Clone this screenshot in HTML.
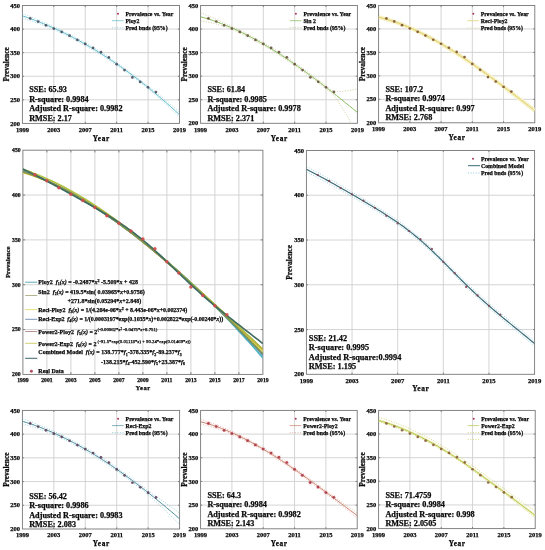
<!DOCTYPE html>
<html><head><meta charset="utf-8"><style>
html,body{margin:0;padding:0;background:#fff;}
body{width:545px;height:550px;overflow:hidden;}
svg{display:block;font-family:"Liberation Serif", serif;filter:blur(0.5px);}
text{stroke:#0a0a0a;stroke-width:0.25px;}
</style></head><body>
<svg width="545" height="550" viewBox="0 0 545 550">
<rect width="545" height="550" fill="#fff"/>
<path d="M53.82,5.50 V123.40 M85.24,5.50 V123.40 M116.66,5.50 V123.40 M148.08,5.50 V123.40 M22.40,99.82 H179.50 M22.40,76.24 H179.50 M22.40,52.66 H179.50 M22.40,29.08 H179.50" stroke="#cfcfcf" stroke-width="0.90" fill="none"/>
<path d="M53.82,5.50 v1.60 M53.82,123.40 v-1.60 M85.24,5.50 v1.60 M85.24,123.40 v-1.60 M116.66,5.50 v1.60 M116.66,123.40 v-1.60 M148.08,5.50 v1.60 M148.08,123.40 v-1.60 M22.40,99.82 h1.60 M179.50,99.82 h-1.60 M22.40,76.24 h1.60 M179.50,76.24 h-1.60 M22.40,52.66 h1.60 M179.50,52.66 h-1.60 M22.40,29.08 h1.60 M179.50,29.08 h-1.60" stroke="#777777" stroke-width="0.90" fill="none"/>
<rect x="22.40" y="5.50" width="157.10" height="117.90" fill="none" stroke="#777777" stroke-width="0.90"/>
<text x="20.10" y="125.55" font-size="6.50" font-weight="bold" font-style="normal" text-anchor="end" fill="#0a0a0a" >200</text>
<text x="20.10" y="101.97" font-size="6.50" font-weight="bold" font-style="normal" text-anchor="end" fill="#0a0a0a" >250</text>
<text x="20.10" y="78.39" font-size="6.50" font-weight="bold" font-style="normal" text-anchor="end" fill="#0a0a0a" >300</text>
<text x="20.10" y="54.81" font-size="6.50" font-weight="bold" font-style="normal" text-anchor="end" fill="#0a0a0a" >350</text>
<text x="20.10" y="31.23" font-size="6.50" font-weight="bold" font-style="normal" text-anchor="end" fill="#0a0a0a" >400</text>
<text x="20.10" y="7.64" font-size="6.50" font-weight="bold" font-style="normal" text-anchor="end" fill="#0a0a0a" >450</text>
<text x="22.40" y="131.85" font-size="6.50" font-weight="bold" font-style="normal" text-anchor="middle" fill="#0a0a0a" >1999</text>
<text x="53.82" y="131.85" font-size="6.50" font-weight="bold" font-style="normal" text-anchor="middle" fill="#0a0a0a" >2003</text>
<text x="85.24" y="131.85" font-size="6.50" font-weight="bold" font-style="normal" text-anchor="middle" fill="#0a0a0a" >2007</text>
<text x="116.66" y="131.85" font-size="6.50" font-weight="bold" font-style="normal" text-anchor="middle" fill="#0a0a0a" >2011</text>
<text x="148.08" y="131.85" font-size="6.50" font-weight="bold" font-style="normal" text-anchor="middle" fill="#0a0a0a" >2015</text>
<text x="179.50" y="131.85" font-size="6.50" font-weight="bold" font-style="normal" text-anchor="middle" fill="#0a0a0a" >2019</text>
<text x="101.25" y="140.61" font-size="7.30" font-weight="bold" font-style="normal" text-anchor="middle" fill="#0a0a0a" letter-spacing="0.60">Year</text>
<text x="0" y="0" font-size="7.40" font-weight="bold" text-anchor="middle" fill="#0a0a0a" transform="translate(8.72,64.45) rotate(-90)">Prevalence</text>
<clipPath id="c1"><rect x="22.40" y="5.50" width="157.10" height="117.90"/></clipPath>
<g clip-path="url(#c1)">
<path d="M22.40,13.52 L23.19,13.81 L23.97,14.11 L24.76,14.41 L25.54,14.71 L26.33,15.02 L27.11,15.32 L27.90,15.63 L28.68,15.94 L29.47,16.25 L30.25,16.56 L31.04,16.88 L31.83,17.19 L32.61,17.51 L33.40,17.83 L34.18,18.16 L34.97,18.48 L35.75,18.80 L36.54,19.13 L37.32,19.46 L38.11,19.79 L38.90,20.12 L39.68,20.46 L40.47,20.80 L41.25,21.13 L42.04,21.47 L42.82,21.81 L43.61,22.16 L44.39,22.50 L45.18,22.85 L45.96,23.19 L46.75,23.54 L47.54,23.89 L48.32,24.24 L49.11,24.59 L49.89,24.95 L50.68,25.30 L51.46,25.66 L52.25,26.02 L53.03,26.37 L53.82,26.73 L54.61,27.08 L55.39,27.44 L56.18,27.80 L56.96,28.16 L57.75,28.53 L58.53,28.89 L59.32,29.26 L60.10,29.63 L60.89,30.01 L61.67,30.38 L62.46,30.76 L63.25,31.14 L64.03,31.52 L64.82,31.91 L65.60,32.30 L66.39,32.69 L67.17,33.08 L67.96,33.47 L68.74,33.87 L69.53,34.27 L70.32,34.67 L71.10,35.08 L71.89,35.48 L72.67,35.89 L73.46,36.30 L74.24,36.72 L75.03,37.13 L75.81,37.55 L76.60,37.97 L77.38,38.39 L78.17,38.82 L78.96,39.25 L79.74,39.68 L80.53,40.11 L81.31,40.54 L82.10,40.98 L82.88,41.42 L83.67,41.86 L84.45,42.30 L85.24,42.75 L86.03,43.20 L86.81,43.65 L87.60,44.10 L88.38,44.56 L89.17,45.02 L89.95,45.48 L90.74,45.94 L91.52,46.41 L92.31,46.87 L93.09,47.34 L93.88,47.82 L94.67,48.29 L95.45,48.77 L96.24,49.25 L97.02,49.73 L97.81,50.21 L98.59,50.70 L99.38,51.19 L100.16,51.68 L100.95,52.17 L101.74,52.67 L102.52,53.16 L103.31,53.66 L104.09,54.17 L104.88,54.67 L105.66,55.18 L106.45,55.69 L107.23,56.20 L108.02,56.71 L108.81,57.23 L109.59,57.75 L110.38,58.27 L111.16,58.79 L111.95,59.32 L112.73,59.85 L113.52,60.38 L114.30,60.91 L115.09,61.45 L115.87,61.99 L116.66,62.53 L117.45,63.07 L118.23,63.61 L119.02,64.16 L119.80,64.71 L120.59,65.26 L121.37,65.82 L122.16,66.37 L122.94,66.93 L123.73,67.49 L124.51,68.06 L125.30,68.62 L126.09,69.19 L126.87,69.76 L127.66,70.33 L128.44,70.91 L129.23,71.49 L130.01,72.07 L130.80,72.65 L131.58,73.23 L132.37,73.82 L133.16,74.41 L133.94,75.00 L134.73,75.60 L135.51,76.19 L136.30,76.79 L137.08,77.39 L137.87,78.00 L138.65,78.60 L139.44,79.21 L140.22,79.82 L141.01,80.43 L141.80,81.05 L142.58,81.67 L143.37,82.29 L144.15,82.91 L144.94,83.53 L145.72,84.16 L146.51,84.79 L147.29,85.42 L148.08,86.05 L148.87,86.69 L149.65,87.32 L150.44,87.95 L151.22,88.58 L152.01,89.21 L152.79,89.84 L153.58,90.48 L154.36,91.11 L155.15,91.74 L155.94,92.38 L156.72,93.02 L157.51,93.66 L158.29,94.30 L159.08,94.94 L159.86,95.59 L160.65,96.23 L161.43,96.88 L162.22,97.53 L163.00,98.17 L163.79,98.83 L164.58,99.48 L165.36,100.13 L166.15,100.79 L166.93,101.45 L167.72,102.11 L168.50,102.77 L169.29,103.43 L170.07,104.09 L170.86,104.76 L171.65,105.43 L172.43,106.10 L173.22,106.77 L174.00,107.44 L174.79,108.12 L175.57,108.79 L176.36,109.47 L177.14,110.15 L177.93,110.83 L178.71,111.52 L179.50,112.20" stroke="#8ccfdc" stroke-width="0.80" stroke-dasharray="1 1.6" fill="none"/>
<path d="M22.40,18.23 L23.19,18.46 L23.97,18.69 L24.76,18.92 L25.54,19.15 L26.33,19.39 L27.11,19.63 L27.90,19.87 L28.68,20.12 L29.47,20.37 L30.25,20.62 L31.04,20.87 L31.83,21.13 L32.61,21.39 L33.40,21.65 L34.18,21.92 L34.97,22.19 L35.75,22.46 L36.54,22.73 L37.32,23.01 L38.11,23.29 L38.90,23.57 L39.68,23.86 L40.47,24.15 L41.25,24.44 L42.04,24.73 L42.82,25.03 L43.61,25.33 L44.39,25.64 L45.18,25.95 L45.96,26.26 L46.75,26.57 L47.54,26.89 L48.32,27.21 L49.11,27.53 L49.89,27.86 L50.68,28.19 L51.46,28.53 L52.25,28.87 L53.03,29.21 L53.82,29.56 L54.61,29.91 L55.39,30.27 L56.18,30.63 L56.96,30.99 L57.75,31.36 L58.53,31.72 L59.32,32.09 L60.10,32.46 L60.89,32.84 L61.67,33.21 L62.46,33.59 L63.25,33.97 L64.03,34.35 L64.82,34.74 L65.60,35.13 L66.39,35.52 L67.17,35.91 L67.96,36.30 L68.74,36.70 L69.53,37.10 L70.32,37.50 L71.10,37.91 L71.89,38.31 L72.67,38.72 L73.46,39.13 L74.24,39.55 L75.03,39.96 L75.81,40.38 L76.60,40.80 L77.38,41.22 L78.17,41.65 L78.96,42.08 L79.74,42.51 L80.53,42.94 L81.31,43.37 L82.10,43.81 L82.88,44.25 L83.67,44.69 L84.45,45.13 L85.24,45.58 L86.03,46.03 L86.81,46.48 L87.60,46.93 L88.38,47.39 L89.17,47.85 L89.95,48.31 L90.74,48.77 L91.52,49.24 L92.31,49.70 L93.09,50.17 L93.88,50.64 L94.67,51.12 L95.45,51.60 L96.24,52.08 L97.02,52.56 L97.81,53.04 L98.59,53.53 L99.38,54.02 L100.16,54.51 L100.95,55.00 L101.74,55.49 L102.52,55.99 L103.31,56.49 L104.09,57.00 L104.88,57.50 L105.66,58.01 L106.45,58.52 L107.23,59.03 L108.02,59.54 L108.81,60.06 L109.59,60.58 L110.38,61.10 L111.16,61.62 L111.95,62.15 L112.73,62.68 L113.52,63.21 L114.30,63.74 L115.09,64.28 L115.87,64.82 L116.66,65.36 L117.45,65.90 L118.23,66.44 L119.02,66.99 L119.80,67.54 L120.59,68.09 L121.37,68.65 L122.16,69.20 L122.94,69.76 L123.73,70.32 L124.51,70.89 L125.30,71.45 L126.09,72.02 L126.87,72.59 L127.66,73.16 L128.44,73.74 L129.23,74.32 L130.01,74.90 L130.80,75.48 L131.58,76.06 L132.37,76.65 L133.16,77.24 L133.94,77.83 L134.73,78.43 L135.51,79.02 L136.30,79.62 L137.08,80.22 L137.87,80.83 L138.65,81.43 L139.44,82.04 L140.22,82.65 L141.01,83.26 L141.80,83.88 L142.58,84.50 L143.37,85.12 L144.15,85.74 L144.94,86.36 L145.72,86.99 L146.51,87.62 L147.29,88.25 L148.08,88.88 L148.87,89.52 L149.65,90.17 L150.44,90.82 L151.22,91.48 L152.01,92.14 L152.79,92.80 L153.58,93.47 L154.36,94.14 L155.15,94.82 L155.94,95.49 L156.72,96.18 L157.51,96.86 L158.29,97.55 L159.08,98.24 L159.86,98.93 L160.65,99.63 L161.43,100.33 L162.22,101.04 L163.00,101.75 L163.79,102.46 L164.58,103.17 L165.36,103.89 L166.15,104.61 L166.93,105.33 L167.72,106.05 L168.50,106.78 L169.29,107.52 L170.07,108.25 L170.86,108.99 L171.65,109.73 L172.43,110.47 L173.22,111.22 L174.00,111.97 L174.79,112.72 L175.57,113.48 L176.36,114.23 L177.14,115.00 L177.93,115.76 L178.71,116.53 L179.50,117.30" stroke="#8ccfdc" stroke-width="0.80" stroke-dasharray="1 1.6" fill="none"/>
<path d="M22.40,15.88 L23.71,16.31 L25.02,16.75 L26.33,17.20 L27.64,17.66 L28.95,18.12 L30.25,18.59 L31.56,19.07 L32.87,19.55 L34.18,20.04 L35.49,20.53 L36.80,21.03 L38.11,21.54 L39.42,22.05 L40.73,22.58 L42.04,23.10 L43.35,23.64 L44.66,24.18 L45.96,24.72 L47.27,25.28 L48.58,25.84 L49.89,26.41 L51.20,26.98 L52.51,27.56 L53.82,28.14 L55.13,28.74 L56.44,29.34 L57.75,29.94 L59.06,30.55 L60.37,31.17 L61.67,31.80 L62.98,32.43 L64.29,33.07 L65.60,33.71 L66.91,34.36 L68.22,35.02 L69.53,35.69 L70.84,36.36 L72.15,37.03 L73.46,37.72 L74.77,38.41 L76.08,39.11 L77.38,39.81 L78.69,40.52 L80.00,41.23 L81.31,41.96 L82.62,42.69 L83.93,43.42 L85.24,44.17 L86.55,44.91 L87.86,45.67 L89.17,46.43 L90.48,47.20 L91.79,47.98 L93.09,48.76 L94.40,49.55 L95.71,50.34 L97.02,51.14 L98.33,51.95 L99.64,52.76 L100.95,53.58 L102.26,54.41 L103.57,55.25 L104.88,56.09 L106.19,56.93 L107.50,57.79 L108.81,58.65 L110.11,59.51 L111.42,60.38 L112.73,61.26 L114.04,62.15 L115.35,63.04 L116.66,63.94 L117.97,64.85 L119.28,65.76 L120.59,66.68 L121.90,67.60 L123.21,68.53 L124.51,69.47 L125.82,70.42 L127.13,71.37 L128.44,72.32 L129.75,73.29 L131.06,74.26 L132.37,75.24 L133.68,76.22 L134.99,77.21 L136.30,78.21 L137.61,79.21 L138.92,80.22 L140.22,81.24 L141.53,82.26 L142.84,83.29 L144.15,84.32 L145.46,85.37 L146.77,86.41 L148.08,87.47 L149.39,88.53 L150.70,89.60 L152.01,90.67 L153.32,91.76 L154.63,92.84 L155.94,93.94 L157.24,95.04 L158.55,96.15 L159.86,97.26 L161.17,98.38 L162.48,99.51 L163.79,100.64 L165.10,101.78 L166.41,102.93 L167.72,104.08 L169.03,105.24 L170.34,106.41 L171.65,107.58 L172.95,108.76 L174.26,109.94 L175.57,111.14 L176.88,112.33 L178.19,113.54 L179.50,114.75" stroke="#56b6c8" stroke-width="1.00" fill="none"/>
<circle cx="30.25" cy="18.47" r="1.35" fill="#4a4a5a" fill-opacity="0.90"/>
<circle cx="38.11" cy="21.53" r="1.35" fill="#4a4a5a" fill-opacity="0.90"/>
<circle cx="45.96" cy="25.31" r="1.35" fill="#4a4a5a" fill-opacity="0.90"/>
<circle cx="53.82" cy="28.61" r="1.35" fill="#4a4a5a" fill-opacity="0.90"/>
<circle cx="61.67" cy="31.91" r="1.35" fill="#4a4a5a" fill-opacity="0.90"/>
<circle cx="69.53" cy="35.68" r="1.35" fill="#4a4a5a" fill-opacity="0.90"/>
<circle cx="77.38" cy="39.93" r="1.35" fill="#4a4a5a" fill-opacity="0.90"/>
<circle cx="85.24" cy="43.94" r="1.35" fill="#4a4a5a" fill-opacity="0.90"/>
<circle cx="93.09" cy="47.94" r="1.35" fill="#4a4a5a" fill-opacity="0.90"/>
<circle cx="100.95" cy="52.19" r="1.35" fill="#4a4a5a" fill-opacity="0.90"/>
<circle cx="108.81" cy="57.38" r="1.35" fill="#4a4a5a" fill-opacity="0.90"/>
<circle cx="116.66" cy="64.21" r="1.35" fill="#4a4a5a" fill-opacity="0.90"/>
<circle cx="124.51" cy="70.11" r="1.35" fill="#4a4a5a" fill-opacity="0.90"/>
<circle cx="132.37" cy="77.42" r="1.35" fill="#4a4a5a" fill-opacity="0.90"/>
<circle cx="140.22" cy="81.90" r="1.35" fill="#4a4a5a" fill-opacity="0.90"/>
<circle cx="148.08" cy="87.32" r="1.35" fill="#4a4a5a" fill-opacity="0.90"/>
<circle cx="155.94" cy="92.04" r="1.35" fill="#4a4a5a" fill-opacity="0.90"/>
</g>
<circle cx="118.00" cy="13.80" r="1.00" fill="#a02040" fill-opacity="0.90"/>
<path d="M112.00,20.70 H123.50" stroke="#56b6c8" stroke-width="0.80" stroke-opacity="0.85"/>
<path d="M112.00,27.70 H123.50" stroke="#8ccfdc" stroke-width="0.80" stroke-dasharray="1 1.6"/>
<text x="125.50" y="15.71" font-size="5.80" font-weight="bold" font-style="normal" text-anchor="start" fill="#0a0a0a" >Prevalence vs. Year</text>
<text x="125.50" y="22.61" font-size="5.80" font-weight="bold" font-style="normal" text-anchor="start" fill="#0a0a0a" >Ploy2</text>
<text x="125.50" y="29.61" font-size="5.80" font-weight="bold" font-style="normal" text-anchor="start" fill="#0a0a0a" >Pred bnds (95%)</text>
<text x="29.20" y="92.39" font-size="8.20" font-weight="bold" font-style="normal" text-anchor="start" fill="#0a0a0a" >SSE: 65.93</text>
<text x="29.20" y="101.89" font-size="8.20" font-weight="bold" font-style="normal" text-anchor="start" fill="#0a0a0a" >R-square: 0.9984</text>
<text x="29.20" y="111.49" font-size="8.20" font-weight="bold" font-style="normal" text-anchor="start" fill="#0a0a0a" >Adjusted R-square: 0.9982</text>
<text x="29.20" y="120.79" font-size="8.20" font-weight="bold" font-style="normal" text-anchor="start" fill="#0a0a0a" >RMSE: 2.17</text>
<path d="M231.96,5.50 V123.30 M263.32,5.50 V123.30 M294.68,5.50 V123.30 M326.04,5.50 V123.30 M200.60,99.74 H357.40 M200.60,76.18 H357.40 M200.60,52.62 H357.40 M200.60,29.06 H357.40" stroke="#cfcfcf" stroke-width="0.90" fill="none"/>
<path d="M231.96,5.50 v1.60 M231.96,123.30 v-1.60 M263.32,5.50 v1.60 M263.32,123.30 v-1.60 M294.68,5.50 v1.60 M294.68,123.30 v-1.60 M326.04,5.50 v1.60 M326.04,123.30 v-1.60 M200.60,99.74 h1.60 M357.40,99.74 h-1.60 M200.60,76.18 h1.60 M357.40,76.18 h-1.60 M200.60,52.62 h1.60 M357.40,52.62 h-1.60 M200.60,29.06 h1.60 M357.40,29.06 h-1.60" stroke="#777777" stroke-width="0.90" fill="none"/>
<rect x="200.60" y="5.50" width="156.80" height="117.80" fill="none" stroke="#777777" stroke-width="0.90"/>
<text x="198.30" y="125.44" font-size="6.50" font-weight="bold" font-style="normal" text-anchor="end" fill="#0a0a0a" >200</text>
<text x="198.30" y="101.88" font-size="6.50" font-weight="bold" font-style="normal" text-anchor="end" fill="#0a0a0a" >250</text>
<text x="198.30" y="78.33" font-size="6.50" font-weight="bold" font-style="normal" text-anchor="end" fill="#0a0a0a" >300</text>
<text x="198.30" y="54.76" font-size="6.50" font-weight="bold" font-style="normal" text-anchor="end" fill="#0a0a0a" >350</text>
<text x="198.30" y="31.21" font-size="6.50" font-weight="bold" font-style="normal" text-anchor="end" fill="#0a0a0a" >400</text>
<text x="198.30" y="7.64" font-size="6.50" font-weight="bold" font-style="normal" text-anchor="end" fill="#0a0a0a" >450</text>
<text x="200.60" y="131.75" font-size="6.50" font-weight="bold" font-style="normal" text-anchor="middle" fill="#0a0a0a" >1999</text>
<text x="231.96" y="131.75" font-size="6.50" font-weight="bold" font-style="normal" text-anchor="middle" fill="#0a0a0a" >2003</text>
<text x="263.32" y="131.75" font-size="6.50" font-weight="bold" font-style="normal" text-anchor="middle" fill="#0a0a0a" >2007</text>
<text x="294.68" y="131.75" font-size="6.50" font-weight="bold" font-style="normal" text-anchor="middle" fill="#0a0a0a" >2011</text>
<text x="326.04" y="131.75" font-size="6.50" font-weight="bold" font-style="normal" text-anchor="middle" fill="#0a0a0a" >2015</text>
<text x="357.40" y="131.75" font-size="6.50" font-weight="bold" font-style="normal" text-anchor="middle" fill="#0a0a0a" >2019</text>
<text x="279.30" y="140.51" font-size="7.30" font-weight="bold" font-style="normal" text-anchor="middle" fill="#0a0a0a" letter-spacing="0.60">Year</text>
<text x="0" y="0" font-size="7.40" font-weight="bold" text-anchor="middle" fill="#0a0a0a" transform="translate(186.92,64.40) rotate(-90)">Prevalence</text>
<clipPath id="c2"><rect x="200.60" y="5.50" width="156.80" height="117.80"/></clipPath>
<g clip-path="url(#c2)">
<path d="M200.60,12.79 L201.38,13.10 L202.17,13.41 L202.95,13.73 L203.74,14.04 L204.52,14.36 L205.30,14.68 L206.09,15.00 L206.87,15.32 L207.66,15.65 L208.44,15.98 L209.22,16.31 L210.01,16.64 L210.79,16.97 L211.58,17.31 L212.36,17.65 L213.14,17.99 L213.93,18.33 L214.71,18.68 L215.50,19.02 L216.28,19.37 L217.06,19.72 L217.85,20.07 L218.63,20.42 L219.42,20.77 L220.20,21.13 L220.98,21.48 L221.77,21.84 L222.55,22.20 L223.34,22.56 L224.12,22.92 L224.90,23.28 L225.69,23.65 L226.47,24.01 L227.26,24.37 L228.04,24.73 L228.82,25.10 L229.61,25.46 L230.39,25.82 L231.18,26.18 L231.96,26.53 L232.74,26.88 L233.53,27.23 L234.31,27.58 L235.10,27.93 L235.88,28.29 L236.66,28.65 L237.45,29.02 L238.23,29.38 L239.02,29.75 L239.80,30.13 L240.58,30.50 L241.37,30.88 L242.15,31.27 L242.94,31.65 L243.72,32.04 L244.50,32.43 L245.29,32.82 L246.07,33.22 L246.86,33.62 L247.64,34.02 L248.42,34.43 L249.21,34.83 L249.99,35.24 L250.78,35.66 L251.56,36.07 L252.34,36.49 L253.13,36.92 L253.91,37.34 L254.70,37.77 L255.48,38.20 L256.26,38.63 L257.05,39.06 L257.83,39.50 L258.62,39.94 L259.40,40.39 L260.18,40.83 L260.97,41.28 L261.75,41.73 L262.54,42.18 L263.32,42.64 L264.10,43.10 L264.89,43.56 L265.67,44.02 L266.46,44.49 L267.24,44.96 L268.02,45.43 L268.81,45.90 L269.59,46.38 L270.38,46.86 L271.16,47.34 L271.94,47.82 L272.73,48.30 L273.51,48.79 L274.30,49.28 L275.08,49.77 L275.86,50.27 L276.65,50.76 L277.43,51.26 L278.22,51.76 L279.00,52.27 L279.78,52.77 L280.57,53.28 L281.35,53.79 L282.14,54.30 L282.92,54.82 L283.70,55.33 L284.49,55.85 L285.27,56.37 L286.06,56.90 L286.84,57.42 L287.62,57.95 L288.41,58.48 L289.19,59.01 L289.98,59.54 L290.76,60.08 L291.54,60.61 L292.33,61.15 L293.11,61.69 L293.90,62.23 L294.68,62.78 L295.46,63.33 L296.25,63.87 L297.03,64.42 L297.82,64.98 L298.60,65.53 L299.38,66.09 L300.17,66.64 L300.95,67.20 L301.74,67.76 L302.52,68.33 L303.30,68.89 L304.09,69.46 L304.87,70.02 L305.66,70.59 L306.44,71.16 L307.22,71.74 L308.01,72.31 L308.79,72.89 L309.58,73.46 L310.36,74.04 L311.14,74.62 L311.93,75.21 L312.71,75.79 L313.50,76.37 L314.28,76.96 L315.06,77.55 L315.85,78.14 L316.63,78.73 L317.42,79.32 L318.20,79.92 L318.98,80.51 L319.77,81.11 L320.55,81.71 L321.34,82.30 L322.12,82.91 L322.90,83.51 L323.69,84.11 L324.47,84.71 L325.26,85.32 L326.04,85.93 L326.82,86.54 L327.61,87.15 L328.39,87.76 L329.18,88.37 L329.96,88.98 L330.74,89.59 L331.53,90.21 L332.31,90.83 L333.10,91.07 L333.88,91.22 L334.66,91.33 L335.45,91.40 L336.23,91.45 L337.02,91.48 L337.80,91.49 L338.58,91.48 L339.37,91.47 L340.15,91.44 L340.94,91.40 L341.72,91.35 L342.50,91.29 L343.29,91.22 L344.07,91.14 L344.86,91.06 L345.64,90.97 L346.42,90.87 L347.21,90.76 L347.99,90.65 L348.78,90.53 L349.56,90.41 L350.34,90.28 L351.13,90.15 L351.91,90.01 L352.70,89.86 L353.48,89.72 L354.26,89.56 L355.05,89.40 L355.83,89.24 L356.62,89.07 L357.40,88.90" stroke="#c4bc8c" stroke-width="0.80" stroke-dasharray="1 1.6" fill="none"/>
<path d="M200.60,20.80 L201.38,20.92 L202.17,21.04 L202.95,21.16 L203.74,21.29 L204.52,21.43 L205.30,21.57 L206.09,21.71 L206.87,21.86 L207.66,22.01 L208.44,22.17 L209.22,22.33 L210.01,22.50 L210.79,22.68 L211.58,22.85 L212.36,23.04 L213.14,23.23 L213.93,23.42 L214.71,23.62 L215.50,23.82 L216.28,24.03 L217.06,24.24 L217.85,24.46 L218.63,24.68 L219.42,24.91 L220.20,25.15 L220.98,25.39 L221.77,25.63 L222.55,25.88 L223.34,26.14 L224.12,26.40 L224.90,26.66 L225.69,26.94 L226.47,27.21 L227.26,27.50 L228.04,27.79 L228.82,28.09 L229.61,28.39 L230.39,28.71 L231.18,29.03 L231.96,29.36 L232.74,29.70 L233.53,30.05 L234.31,30.41 L235.10,30.76 L235.88,31.12 L236.66,31.48 L237.45,31.84 L238.23,32.21 L239.02,32.58 L239.80,32.95 L240.58,33.33 L241.37,33.71 L242.15,34.09 L242.94,34.48 L243.72,34.87 L244.50,35.26 L245.29,35.65 L246.07,36.05 L246.86,36.45 L247.64,36.85 L248.42,37.25 L249.21,37.66 L249.99,38.07 L250.78,38.49 L251.56,38.90 L252.34,39.32 L253.13,39.74 L253.91,40.17 L254.70,40.59 L255.48,41.02 L256.26,41.46 L257.05,41.89 L257.83,42.33 L258.62,42.77 L259.40,43.21 L260.18,43.66 L260.97,44.11 L261.75,44.56 L262.54,45.01 L263.32,45.47 L264.10,45.93 L264.89,46.39 L265.67,46.85 L266.46,47.32 L267.24,47.78 L268.02,48.26 L268.81,48.73 L269.59,49.20 L270.38,49.68 L271.16,50.16 L271.94,50.65 L272.73,51.13 L273.51,51.62 L274.30,52.11 L275.08,52.60 L275.86,53.10 L276.65,53.59 L277.43,54.09 L278.22,54.59 L279.00,55.10 L279.78,55.60 L280.57,56.11 L281.35,56.62 L282.14,57.13 L282.92,57.65 L283.70,58.16 L284.49,58.68 L285.27,59.20 L286.06,59.72 L286.84,60.25 L287.62,60.78 L288.41,61.30 L289.19,61.84 L289.98,62.37 L290.76,62.90 L291.54,63.44 L292.33,63.98 L293.11,64.52 L293.90,65.06 L294.68,65.61 L295.46,66.15 L296.25,66.70 L297.03,67.25 L297.82,67.80 L298.60,68.36 L299.38,68.91 L300.17,69.47 L300.95,70.03 L301.74,70.59 L302.52,71.15 L303.30,71.72 L304.09,72.28 L304.87,72.85 L305.66,73.42 L306.44,73.99 L307.22,74.56 L308.01,75.14 L308.79,75.71 L309.58,76.29 L310.36,76.87 L311.14,77.45 L311.93,78.03 L312.71,78.62 L313.50,79.20 L314.28,79.79 L315.06,80.38 L315.85,80.97 L316.63,81.56 L317.42,82.15 L318.20,82.74 L318.98,83.34 L319.77,83.94 L320.55,84.53 L321.34,85.13 L322.12,85.73 L322.90,86.33 L323.69,86.94 L324.47,87.54 L325.26,88.15 L326.04,88.75 L326.82,89.36 L327.61,89.97 L328.39,90.58 L329.18,91.19 L329.96,91.81 L330.74,92.42 L331.53,93.04 L332.31,93.65 L333.10,94.53 L333.88,95.52 L334.66,96.55 L335.45,97.63 L336.23,98.73 L337.02,99.86 L337.80,101.01 L338.58,102.18 L339.37,103.38 L340.15,104.58 L340.94,105.81 L341.72,107.04 L342.50,108.30 L343.29,109.56 L344.07,110.84 L344.86,112.13 L345.64,113.43 L346.42,114.74 L347.21,116.06 L347.99,117.39 L348.78,118.73 L349.56,120.08 L350.34,121.44 L351.13,122.80 L351.91,124.18 L352.70,125.56 L353.48,126.95 L354.26,128.35 L355.05,129.76 L355.83,131.17 L356.62,132.59 L357.40,134.02" stroke="#c4bc8c" stroke-width="0.80" stroke-dasharray="1 1.6" fill="none"/>
<path d="M200.60,16.80 L201.91,17.15 L203.21,17.52 L204.52,17.89 L205.83,18.28 L207.13,18.67 L208.44,19.07 L209.75,19.49 L211.05,19.91 L212.36,20.34 L213.67,20.79 L214.97,21.24 L216.28,21.70 L217.59,22.17 L218.89,22.65 L220.20,23.14 L221.51,23.64 L222.81,24.14 L224.12,24.66 L225.43,25.18 L226.73,25.72 L228.04,26.26 L229.35,26.81 L230.65,27.38 L231.96,27.94 L233.27,28.52 L234.57,29.11 L235.88,29.71 L237.19,30.31 L238.49,30.92 L239.80,31.54 L241.11,32.17 L242.41,32.81 L243.72,33.45 L245.03,34.10 L246.33,34.77 L247.64,35.43 L248.95,36.11 L250.25,36.80 L251.56,37.49 L252.87,38.19 L254.17,38.90 L255.48,39.61 L256.79,40.33 L258.09,41.06 L259.40,41.80 L260.71,42.54 L262.01,43.30 L263.32,44.05 L264.63,44.82 L265.93,45.59 L267.24,46.37 L268.55,47.16 L269.85,47.95 L271.16,48.75 L272.47,49.56 L273.77,50.37 L275.08,51.19 L276.39,52.01 L277.69,52.84 L279.00,53.68 L280.31,54.53 L281.61,55.38 L282.92,56.23 L284.23,57.09 L285.53,57.96 L286.84,58.84 L288.15,59.71 L289.45,60.60 L290.76,61.49 L292.07,62.39 L293.37,63.29 L294.68,64.19 L295.99,65.10 L297.29,66.02 L298.60,66.94 L299.91,67.87 L301.21,68.80 L302.52,69.74 L303.83,70.68 L305.13,71.63 L306.44,72.58 L307.75,73.53 L309.05,74.49 L310.36,75.46 L311.67,76.43 L312.97,77.40 L314.28,78.37 L315.59,79.36 L316.89,80.34 L318.20,81.33 L319.51,82.32 L320.81,83.32 L322.12,84.32 L323.43,85.32 L324.73,86.33 L326.04,87.34 L327.35,88.36 L328.65,89.37 L329.96,90.39 L331.27,91.42 L332.57,92.44 L333.88,93.47 L335.19,94.51 L336.49,95.54 L337.80,96.58 L339.11,97.62 L340.41,98.67 L341.72,99.71 L343.03,100.76 L344.33,101.81 L345.64,102.87 L346.95,103.92 L348.25,104.98 L349.56,106.04 L350.87,107.10 L352.17,108.17 L353.48,109.23 L354.79,110.30 L356.09,111.37 L357.40,112.44" stroke="#80b850" stroke-width="1.00" fill="none"/>
<circle cx="208.44" cy="18.46" r="1.35" fill="#66513c" fill-opacity="0.90"/>
<circle cx="216.28" cy="21.52" r="1.35" fill="#66513c" fill-opacity="0.90"/>
<circle cx="224.12" cy="25.29" r="1.35" fill="#66513c" fill-opacity="0.90"/>
<circle cx="231.96" cy="28.59" r="1.35" fill="#66513c" fill-opacity="0.90"/>
<circle cx="239.80" cy="31.89" r="1.35" fill="#66513c" fill-opacity="0.90"/>
<circle cx="247.64" cy="35.66" r="1.35" fill="#66513c" fill-opacity="0.90"/>
<circle cx="255.48" cy="39.90" r="1.35" fill="#66513c" fill-opacity="0.90"/>
<circle cx="263.32" cy="43.90" r="1.35" fill="#66513c" fill-opacity="0.90"/>
<circle cx="271.16" cy="47.91" r="1.35" fill="#66513c" fill-opacity="0.90"/>
<circle cx="279.00" cy="52.15" r="1.35" fill="#66513c" fill-opacity="0.90"/>
<circle cx="286.84" cy="57.33" r="1.35" fill="#66513c" fill-opacity="0.90"/>
<circle cx="294.68" cy="64.16" r="1.35" fill="#66513c" fill-opacity="0.90"/>
<circle cx="302.52" cy="70.05" r="1.35" fill="#66513c" fill-opacity="0.90"/>
<circle cx="310.36" cy="77.36" r="1.35" fill="#66513c" fill-opacity="0.90"/>
<circle cx="318.20" cy="81.83" r="1.35" fill="#66513c" fill-opacity="0.90"/>
<circle cx="326.04" cy="87.25" r="1.35" fill="#66513c" fill-opacity="0.90"/>
<circle cx="333.88" cy="91.97" r="1.35" fill="#66513c" fill-opacity="0.90"/>
</g>
<circle cx="295.90" cy="13.80" r="1.00" fill="#a02040" fill-opacity="0.90"/>
<path d="M289.90,20.70 H301.40" stroke="#80b850" stroke-width="0.80" stroke-opacity="0.85"/>
<path d="M289.90,27.70 H301.40" stroke="#c4bc8c" stroke-width="0.80" stroke-dasharray="1 1.6"/>
<text x="303.40" y="15.71" font-size="5.80" font-weight="bold" font-style="normal" text-anchor="start" fill="#0a0a0a" >Prevalence vs. Year</text>
<text x="303.40" y="22.61" font-size="5.80" font-weight="bold" font-style="normal" text-anchor="start" fill="#0a0a0a" >Sin 2</text>
<text x="303.40" y="29.61" font-size="5.80" font-weight="bold" font-style="normal" text-anchor="start" fill="#0a0a0a" >Pred bnds (95%)</text>
<text x="207.40" y="92.29" font-size="8.20" font-weight="bold" font-style="normal" text-anchor="start" fill="#0a0a0a" >SSE: 61.84</text>
<text x="207.40" y="101.79" font-size="8.20" font-weight="bold" font-style="normal" text-anchor="start" fill="#0a0a0a" >R-square: 0.9985</text>
<text x="207.40" y="111.39" font-size="8.20" font-weight="bold" font-style="normal" text-anchor="start" fill="#0a0a0a" >Adjusted R-square: 0.9978</text>
<text x="207.40" y="120.69" font-size="8.20" font-weight="bold" font-style="normal" text-anchor="start" fill="#0a0a0a" >RMSE: 2.371</text>
<path d="M409.84,5.50 V122.80 M441.08,5.50 V122.80 M472.32,5.50 V122.80 M503.56,5.50 V122.80 M378.60,99.34 H534.80 M378.60,75.88 H534.80 M378.60,52.42 H534.80 M378.60,28.96 H534.80" stroke="#cfcfcf" stroke-width="0.90" fill="none"/>
<path d="M409.84,5.50 v1.60 M409.84,122.80 v-1.60 M441.08,5.50 v1.60 M441.08,122.80 v-1.60 M472.32,5.50 v1.60 M472.32,122.80 v-1.60 M503.56,5.50 v1.60 M503.56,122.80 v-1.60 M378.60,99.34 h1.60 M534.80,99.34 h-1.60 M378.60,75.88 h1.60 M534.80,75.88 h-1.60 M378.60,52.42 h1.60 M534.80,52.42 h-1.60 M378.60,28.96 h1.60 M534.80,28.96 h-1.60" stroke="#777777" stroke-width="0.90" fill="none"/>
<rect x="378.60" y="5.50" width="156.20" height="117.30" fill="none" stroke="#777777" stroke-width="0.90"/>
<text x="376.30" y="124.94" font-size="6.50" font-weight="bold" font-style="normal" text-anchor="end" fill="#0a0a0a" >200</text>
<text x="376.30" y="101.48" font-size="6.50" font-weight="bold" font-style="normal" text-anchor="end" fill="#0a0a0a" >250</text>
<text x="376.30" y="78.02" font-size="6.50" font-weight="bold" font-style="normal" text-anchor="end" fill="#0a0a0a" >300</text>
<text x="376.30" y="54.57" font-size="6.50" font-weight="bold" font-style="normal" text-anchor="end" fill="#0a0a0a" >350</text>
<text x="376.30" y="31.10" font-size="6.50" font-weight="bold" font-style="normal" text-anchor="end" fill="#0a0a0a" >400</text>
<text x="376.30" y="7.64" font-size="6.50" font-weight="bold" font-style="normal" text-anchor="end" fill="#0a0a0a" >450</text>
<text x="378.60" y="131.25" font-size="6.50" font-weight="bold" font-style="normal" text-anchor="middle" fill="#0a0a0a" >1999</text>
<text x="409.84" y="131.25" font-size="6.50" font-weight="bold" font-style="normal" text-anchor="middle" fill="#0a0a0a" >2003</text>
<text x="441.08" y="131.25" font-size="6.50" font-weight="bold" font-style="normal" text-anchor="middle" fill="#0a0a0a" >2007</text>
<text x="472.32" y="131.25" font-size="6.50" font-weight="bold" font-style="normal" text-anchor="middle" fill="#0a0a0a" >2011</text>
<text x="503.56" y="131.25" font-size="6.50" font-weight="bold" font-style="normal" text-anchor="middle" fill="#0a0a0a" >2015</text>
<text x="534.80" y="131.25" font-size="6.50" font-weight="bold" font-style="normal" text-anchor="middle" fill="#0a0a0a" >2019</text>
<text x="457.00" y="140.01" font-size="7.30" font-weight="bold" font-style="normal" text-anchor="middle" fill="#0a0a0a" letter-spacing="0.60">Year</text>
<text x="0" y="0" font-size="7.40" font-weight="bold" text-anchor="middle" fill="#0a0a0a" transform="translate(364.92,64.15) rotate(-90)">Prevalence</text>
<clipPath id="c3"><rect x="378.60" y="5.50" width="156.20" height="117.30"/></clipPath>
<g clip-path="url(#c3)">
<path d="M378.60,17.22 L379.90,17.53 L381.20,17.86 L382.50,18.19 L383.81,18.53 L385.11,18.89 L386.41,19.26 L387.71,19.64 L389.01,20.03 L390.31,20.43 L391.62,20.85 L392.92,21.27 L394.22,21.71 L395.52,22.15 L396.82,22.61 L398.12,23.08 L399.43,23.56 L400.73,24.05 L402.03,24.55 L403.33,25.05 L404.63,25.57 L405.94,26.10 L407.24,26.64 L408.54,27.19 L409.84,27.75 L411.14,28.32 L412.44,28.90 L413.75,29.48 L415.05,30.08 L416.35,30.69 L417.65,31.30 L418.95,31.92 L420.25,32.56 L421.56,33.20 L422.86,33.85 L424.16,34.51 L425.46,35.17 L426.76,35.85 L428.06,36.53 L429.37,37.22 L430.67,37.92 L431.97,38.63 L433.27,39.35 L434.57,40.07 L435.87,40.80 L437.18,41.54 L438.48,42.28 L439.78,43.04 L441.08,43.80 L442.38,44.56 L443.68,45.34 L444.99,46.12 L446.29,46.90 L447.59,47.70 L448.89,48.50 L450.19,49.31 L451.49,50.12 L452.79,50.94 L454.10,51.77 L455.40,52.60 L456.70,53.44 L458.00,54.28 L459.30,55.13 L460.61,55.98 L461.91,56.85 L463.21,57.71 L464.51,58.58 L465.81,59.46 L467.11,60.34 L468.41,61.23 L469.72,62.12 L471.02,63.02 L472.32,63.92 L473.62,64.82 L474.92,65.73 L476.22,66.65 L477.53,67.56 L478.83,68.49 L480.13,69.41 L481.43,70.34 L482.73,71.28 L484.03,72.22 L485.34,73.16 L486.64,74.10 L487.94,75.05 L489.24,76.01 L490.54,76.96 L491.84,77.92 L493.15,78.88 L494.45,79.85 L495.75,80.81 L497.05,81.78 L498.35,82.75 L499.65,83.73 L500.96,84.71 L502.26,85.69 L503.56,86.67 L504.86,87.65 L506.16,88.64 L507.46,89.63 L508.77,90.62 L510.07,91.61 L511.37,92.60 L512.67,93.59 L513.97,94.59 L515.27,95.58 L516.58,96.58 L517.88,97.58 L519.18,98.58 L520.48,99.58 L521.78,100.58 L523.09,101.58 L524.39,102.59 L525.69,103.59 L526.99,104.59 L528.29,105.59 L529.59,106.60 L530.89,107.60 L532.20,108.60 L533.50,109.61 L534.80,110.61" stroke="#f8f4d0" stroke-width="4.20" fill="none"/>
<path d="M378.60,16.29 L379.38,16.47 L380.16,16.66 L380.94,16.85 L381.72,17.05 L382.50,17.25 L383.29,17.46 L384.07,17.67 L384.85,17.88 L385.63,18.10 L386.41,18.32 L387.19,18.55 L387.97,18.78 L388.75,19.01 L389.53,19.25 L390.31,19.49 L391.10,19.74 L391.88,19.99 L392.66,20.25 L393.44,20.51 L394.22,20.77 L395.00,21.04 L395.78,21.31 L396.56,21.58 L397.34,21.86 L398.12,22.14 L398.91,22.43 L399.69,22.72 L400.47,23.01 L401.25,23.31 L402.03,23.61 L402.81,23.91 L403.59,24.22 L404.37,24.53 L405.15,24.85 L405.94,25.16 L406.72,25.49 L407.50,25.81 L408.28,26.14 L409.06,26.48 L409.84,26.81 L410.62,27.15 L411.40,27.50 L412.18,27.84 L412.96,28.19 L413.75,28.55 L414.53,28.90 L415.31,29.26 L416.09,29.63 L416.87,29.99 L417.65,30.36 L418.43,30.74 L419.21,31.11 L419.99,31.49 L420.77,31.87 L421.56,32.26 L422.34,32.65 L423.12,33.04 L423.90,33.44 L424.68,33.83 L425.46,34.23 L426.24,34.64 L427.02,35.05 L427.80,35.46 L428.58,35.87 L429.37,36.28 L430.15,36.70 L430.93,37.13 L431.71,37.55 L432.49,37.98 L433.27,38.41 L434.05,38.84 L434.83,39.28 L435.61,39.71 L436.39,40.16 L437.18,40.60 L437.96,41.05 L438.74,41.49 L439.52,41.95 L440.30,42.40 L441.08,42.86 L441.86,43.32 L442.64,43.78 L443.42,44.24 L444.20,44.71 L444.99,45.18 L445.77,45.65 L446.55,46.12 L447.33,46.60 L448.11,47.08 L448.89,47.56 L449.67,48.04 L450.45,48.53 L451.23,49.02 L452.01,49.51 L452.79,50.00 L453.58,50.50 L454.36,50.99 L455.14,51.49 L455.92,51.99 L456.70,52.50 L457.48,53.00 L458.26,53.51 L459.04,54.02 L459.82,54.53 L460.61,55.05 L461.39,55.56 L462.17,56.08 L462.95,56.60 L463.73,57.12 L464.51,57.64 L465.29,58.17 L466.07,58.70 L466.85,59.23 L467.63,59.76 L468.41,60.29 L469.20,60.82 L469.98,61.36 L470.76,61.90 L471.54,62.44 L472.32,62.98 L473.10,63.52 L473.88,64.06 L474.66,64.61 L475.44,65.16 L476.22,65.71 L477.01,66.26 L477.79,66.81 L478.57,67.36 L479.35,67.92 L480.13,68.48 L480.91,69.03 L481.69,69.59 L482.47,70.15 L483.25,70.72 L484.03,71.28 L484.82,71.84 L485.60,72.41 L486.38,72.98 L487.16,73.55 L487.94,74.12 L488.72,74.69 L489.50,75.26 L490.28,75.83 L491.06,76.41 L491.84,76.98 L492.63,77.56 L493.41,78.14 L494.19,78.71 L494.97,79.29 L495.75,79.87 L496.53,80.46 L497.31,81.04 L498.09,81.62 L498.87,82.21 L499.65,82.79 L500.44,83.38 L501.22,83.96 L502.00,84.55 L502.78,85.14 L503.56,85.73 L504.34,86.32 L505.12,86.90 L505.90,87.49 L506.68,88.07 L507.46,88.65 L508.25,89.24 L509.03,89.82 L509.81,90.40 L510.59,90.98 L511.37,91.57 L512.15,92.15 L512.93,92.73 L513.71,93.31 L514.49,93.89 L515.27,94.47 L516.06,95.05 L516.84,95.64 L517.62,96.22 L518.40,96.80 L519.18,97.38 L519.96,97.96 L520.74,98.54 L521.52,99.12 L522.30,99.70 L523.09,100.27 L523.87,100.85 L524.65,101.43 L525.43,102.01 L526.21,102.59 L526.99,103.17 L527.77,103.74 L528.55,104.32 L529.33,104.90 L530.11,105.47 L530.89,106.05 L531.68,106.62 L532.46,107.20 L533.24,107.77 L534.02,108.35 L534.80,108.92" stroke="#ece29c" stroke-width="0.80" stroke-dasharray="1 1.6" fill="none"/>
<path d="M378.60,18.16 L379.38,18.35 L380.16,18.54 L380.94,18.73 L381.72,18.93 L382.50,19.13 L383.29,19.33 L384.07,19.54 L384.85,19.76 L385.63,19.98 L386.41,20.20 L387.19,20.42 L387.97,20.66 L388.75,20.89 L389.53,21.13 L390.31,21.37 L391.10,21.62 L391.88,21.87 L392.66,22.12 L393.44,22.38 L394.22,22.65 L395.00,22.91 L395.78,23.18 L396.56,23.46 L397.34,23.74 L398.12,24.02 L398.91,24.30 L399.69,24.59 L400.47,24.89 L401.25,25.18 L402.03,25.48 L402.81,25.79 L403.59,26.10 L404.37,26.41 L405.15,26.72 L405.94,27.04 L406.72,27.36 L407.50,27.69 L408.28,28.02 L409.06,28.35 L409.84,28.69 L410.62,29.03 L411.40,29.37 L412.18,29.72 L412.96,30.07 L413.75,30.42 L414.53,30.78 L415.31,31.14 L416.09,31.50 L416.87,31.87 L417.65,32.24 L418.43,32.61 L419.21,32.99 L419.99,33.37 L420.77,33.75 L421.56,34.14 L422.34,34.53 L423.12,34.92 L423.90,35.31 L424.68,35.71 L425.46,36.11 L426.24,36.52 L427.02,36.92 L427.80,37.33 L428.58,37.75 L429.37,38.16 L430.15,38.58 L430.93,39.00 L431.71,39.43 L432.49,39.85 L433.27,40.28 L434.05,40.72 L434.83,41.15 L435.61,41.59 L436.39,42.03 L437.18,42.48 L437.96,42.92 L438.74,43.37 L439.52,43.82 L440.30,44.28 L441.08,44.73 L441.86,45.19 L442.64,45.65 L443.42,46.12 L444.20,46.59 L444.99,47.06 L445.77,47.53 L446.55,48.00 L447.33,48.48 L448.11,48.96 L448.89,49.44 L449.67,49.92 L450.45,50.41 L451.23,50.90 L452.01,51.39 L452.79,51.88 L453.58,52.37 L454.36,52.87 L455.14,53.37 L455.92,53.87 L456.70,54.37 L457.48,54.88 L458.26,55.39 L459.04,55.90 L459.82,56.41 L460.61,56.92 L461.39,57.44 L462.17,57.96 L462.95,58.48 L463.73,59.00 L464.51,59.52 L465.29,60.05 L466.07,60.57 L466.85,61.10 L467.63,61.63 L468.41,62.17 L469.20,62.70 L469.98,63.24 L470.76,63.77 L471.54,64.31 L472.32,64.85 L473.10,65.40 L473.88,65.94 L474.66,66.49 L475.44,67.04 L476.22,67.58 L477.01,68.13 L477.79,68.69 L478.57,69.24 L479.35,69.80 L480.13,70.35 L480.91,70.91 L481.69,71.47 L482.47,72.03 L483.25,72.59 L484.03,73.16 L484.82,73.72 L485.60,74.29 L486.38,74.85 L487.16,75.42 L487.94,75.99 L488.72,76.56 L489.50,77.13 L490.28,77.71 L491.06,78.28 L491.84,78.86 L492.63,79.43 L493.41,80.01 L494.19,80.59 L494.97,81.17 L495.75,81.75 L496.53,82.33 L497.31,82.92 L498.09,83.50 L498.87,84.08 L499.65,84.67 L500.44,85.25 L501.22,85.84 L502.00,86.43 L502.78,87.02 L503.56,87.61 L504.34,88.20 L505.12,88.80 L505.90,89.39 L506.68,90.00 L507.46,90.60 L508.25,91.20 L509.03,91.81 L509.81,92.41 L510.59,93.02 L511.37,93.63 L512.15,94.24 L512.93,94.85 L513.71,95.47 L514.49,96.08 L515.27,96.70 L516.06,97.31 L516.84,97.93 L517.62,98.55 L518.40,99.16 L519.18,99.78 L519.96,100.40 L520.74,101.03 L521.52,101.65 L522.30,102.27 L523.09,102.89 L523.87,103.52 L524.65,104.14 L525.43,104.77 L526.21,105.39 L526.99,106.02 L527.77,106.64 L528.55,107.27 L529.33,107.90 L530.11,108.53 L530.89,109.15 L531.68,109.78 L532.46,110.41 L533.24,111.04 L534.02,111.67 L534.80,112.30" stroke="#ece29c" stroke-width="0.80" stroke-dasharray="1 1.6" fill="none"/>
<path d="M378.60,17.22 L379.90,17.53 L381.20,17.86 L382.50,18.19 L383.81,18.53 L385.11,18.89 L386.41,19.26 L387.71,19.64 L389.01,20.03 L390.31,20.43 L391.62,20.85 L392.92,21.27 L394.22,21.71 L395.52,22.15 L396.82,22.61 L398.12,23.08 L399.43,23.56 L400.73,24.05 L402.03,24.55 L403.33,25.05 L404.63,25.57 L405.94,26.10 L407.24,26.64 L408.54,27.19 L409.84,27.75 L411.14,28.32 L412.44,28.90 L413.75,29.48 L415.05,30.08 L416.35,30.69 L417.65,31.30 L418.95,31.92 L420.25,32.56 L421.56,33.20 L422.86,33.85 L424.16,34.51 L425.46,35.17 L426.76,35.85 L428.06,36.53 L429.37,37.22 L430.67,37.92 L431.97,38.63 L433.27,39.35 L434.57,40.07 L435.87,40.80 L437.18,41.54 L438.48,42.28 L439.78,43.04 L441.08,43.80 L442.38,44.56 L443.68,45.34 L444.99,46.12 L446.29,46.90 L447.59,47.70 L448.89,48.50 L450.19,49.31 L451.49,50.12 L452.79,50.94 L454.10,51.77 L455.40,52.60 L456.70,53.44 L458.00,54.28 L459.30,55.13 L460.61,55.98 L461.91,56.85 L463.21,57.71 L464.51,58.58 L465.81,59.46 L467.11,60.34 L468.41,61.23 L469.72,62.12 L471.02,63.02 L472.32,63.92 L473.62,64.82 L474.92,65.73 L476.22,66.65 L477.53,67.56 L478.83,68.49 L480.13,69.41 L481.43,70.34 L482.73,71.28 L484.03,72.22 L485.34,73.16 L486.64,74.10 L487.94,75.05 L489.24,76.01 L490.54,76.96 L491.84,77.92 L493.15,78.88 L494.45,79.85 L495.75,80.81 L497.05,81.78 L498.35,82.75 L499.65,83.73 L500.96,84.71 L502.26,85.69 L503.56,86.67 L504.86,87.65 L506.16,88.64 L507.46,89.63 L508.77,90.62 L510.07,91.61 L511.37,92.60 L512.67,93.59 L513.97,94.59 L515.27,95.58 L516.58,96.58 L517.88,97.58 L519.18,98.58 L520.48,99.58 L521.78,100.58 L523.09,101.58 L524.39,102.59 L525.69,103.59 L526.99,104.59 L528.29,105.59 L529.59,106.60 L530.89,107.60 L532.20,108.60 L533.50,109.61 L534.80,110.61" stroke="#dccb5a" stroke-width="1.00" fill="none"/>
<circle cx="386.41" cy="18.40" r="1.35" fill="#7c5232" fill-opacity="0.90"/>
<circle cx="394.22" cy="21.45" r="1.35" fill="#7c5232" fill-opacity="0.90"/>
<circle cx="402.03" cy="25.21" r="1.35" fill="#7c5232" fill-opacity="0.90"/>
<circle cx="409.84" cy="28.49" r="1.35" fill="#7c5232" fill-opacity="0.90"/>
<circle cx="417.65" cy="31.78" r="1.35" fill="#7c5232" fill-opacity="0.90"/>
<circle cx="425.46" cy="35.53" r="1.35" fill="#7c5232" fill-opacity="0.90"/>
<circle cx="433.27" cy="39.75" r="1.35" fill="#7c5232" fill-opacity="0.90"/>
<circle cx="441.08" cy="43.74" r="1.35" fill="#7c5232" fill-opacity="0.90"/>
<circle cx="448.89" cy="47.73" r="1.35" fill="#7c5232" fill-opacity="0.90"/>
<circle cx="456.70" cy="51.95" r="1.35" fill="#7c5232" fill-opacity="0.90"/>
<circle cx="464.51" cy="57.11" r="1.35" fill="#7c5232" fill-opacity="0.90"/>
<circle cx="472.32" cy="63.92" r="1.35" fill="#7c5232" fill-opacity="0.90"/>
<circle cx="480.13" cy="69.78" r="1.35" fill="#7c5232" fill-opacity="0.90"/>
<circle cx="487.94" cy="77.05" r="1.35" fill="#7c5232" fill-opacity="0.90"/>
<circle cx="495.75" cy="81.51" r="1.35" fill="#7c5232" fill-opacity="0.90"/>
<circle cx="503.56" cy="86.91" r="1.35" fill="#7c5232" fill-opacity="0.90"/>
<circle cx="511.37" cy="91.60" r="1.35" fill="#7c5232" fill-opacity="0.90"/>
</g>
<circle cx="473.30" cy="13.80" r="1.00" fill="#a02040" fill-opacity="0.90"/>
<path d="M467.30,20.70 H478.80" stroke="#dccb5a" stroke-width="0.80" stroke-opacity="0.85"/>
<path d="M467.30,27.70 H478.80" stroke="#ece29c" stroke-width="0.80" stroke-dasharray="1 1.6"/>
<text x="480.80" y="15.71" font-size="5.80" font-weight="bold" font-style="normal" text-anchor="start" fill="#0a0a0a" >Prevalence vs. Year</text>
<text x="480.80" y="22.61" font-size="5.80" font-weight="bold" font-style="normal" text-anchor="start" fill="#0a0a0a" >Reci-Ploy2</text>
<text x="480.80" y="29.61" font-size="5.80" font-weight="bold" font-style="normal" text-anchor="start" fill="#0a0a0a" >Pred bnds (95%)</text>
<text x="385.40" y="91.79" font-size="8.20" font-weight="bold" font-style="normal" text-anchor="start" fill="#0a0a0a" >SSE: 107.2</text>
<text x="385.40" y="101.29" font-size="8.20" font-weight="bold" font-style="normal" text-anchor="start" fill="#0a0a0a" >R-square: 0.9974</text>
<text x="385.40" y="110.89" font-size="8.20" font-weight="bold" font-style="normal" text-anchor="start" fill="#0a0a0a" >Adjusted R-square: 0.997</text>
<text x="385.40" y="120.19" font-size="8.20" font-weight="bold" font-style="normal" text-anchor="start" fill="#0a0a0a" >RMSE: 2.768</text>
<path d="M53.84,410.40 V529.00 M85.28,410.40 V529.00 M116.72,410.40 V529.00 M148.16,410.40 V529.00 M22.40,505.28 H179.60 M22.40,481.56 H179.60 M22.40,457.84 H179.60 M22.40,434.12 H179.60" stroke="#cfcfcf" stroke-width="0.90" fill="none"/>
<path d="M53.84,410.40 v1.60 M53.84,529.00 v-1.60 M85.28,410.40 v1.60 M85.28,529.00 v-1.60 M116.72,410.40 v1.60 M116.72,529.00 v-1.60 M148.16,410.40 v1.60 M148.16,529.00 v-1.60 M22.40,505.28 h1.60 M179.60,505.28 h-1.60 M22.40,481.56 h1.60 M179.60,481.56 h-1.60 M22.40,457.84 h1.60 M179.60,457.84 h-1.60 M22.40,434.12 h1.60 M179.60,434.12 h-1.60" stroke="#777777" stroke-width="0.90" fill="none"/>
<rect x="22.40" y="410.40" width="157.20" height="118.60" fill="none" stroke="#777777" stroke-width="0.90"/>
<text x="20.10" y="531.14" font-size="6.50" font-weight="bold" font-style="normal" text-anchor="end" fill="#0a0a0a" >200</text>
<text x="20.10" y="507.42" font-size="6.50" font-weight="bold" font-style="normal" text-anchor="end" fill="#0a0a0a" >250</text>
<text x="20.10" y="483.70" font-size="6.50" font-weight="bold" font-style="normal" text-anchor="end" fill="#0a0a0a" >300</text>
<text x="20.10" y="459.98" font-size="6.50" font-weight="bold" font-style="normal" text-anchor="end" fill="#0a0a0a" >350</text>
<text x="20.10" y="436.26" font-size="6.50" font-weight="bold" font-style="normal" text-anchor="end" fill="#0a0a0a" >400</text>
<text x="20.10" y="412.54" font-size="6.50" font-weight="bold" font-style="normal" text-anchor="end" fill="#0a0a0a" >450</text>
<text x="22.40" y="537.44" font-size="6.50" font-weight="bold" font-style="normal" text-anchor="middle" fill="#0a0a0a" >1999</text>
<text x="53.84" y="537.44" font-size="6.50" font-weight="bold" font-style="normal" text-anchor="middle" fill="#0a0a0a" >2003</text>
<text x="85.28" y="537.44" font-size="6.50" font-weight="bold" font-style="normal" text-anchor="middle" fill="#0a0a0a" >2007</text>
<text x="116.72" y="537.44" font-size="6.50" font-weight="bold" font-style="normal" text-anchor="middle" fill="#0a0a0a" >2011</text>
<text x="148.16" y="537.44" font-size="6.50" font-weight="bold" font-style="normal" text-anchor="middle" fill="#0a0a0a" >2015</text>
<text x="179.60" y="537.44" font-size="6.50" font-weight="bold" font-style="normal" text-anchor="middle" fill="#0a0a0a" >2019</text>
<text x="101.30" y="546.21" font-size="7.30" font-weight="bold" font-style="normal" text-anchor="middle" fill="#0a0a0a" letter-spacing="0.60">Year</text>
<text x="0" y="0" font-size="7.40" font-weight="bold" text-anchor="middle" fill="#0a0a0a" transform="translate(8.72,469.70) rotate(-90)">Prevalence</text>
<clipPath id="c4"><rect x="22.40" y="410.40" width="157.20" height="118.60"/></clipPath>
<g clip-path="url(#c4)">
<path d="M22.40,418.72 L23.19,418.99 L23.97,419.26 L24.76,419.53 L25.54,419.81 L26.33,420.09 L27.12,420.37 L27.90,420.66 L28.69,420.94 L29.47,421.23 L30.26,421.52 L31.05,421.82 L31.83,422.12 L32.62,422.42 L33.40,422.72 L34.19,423.02 L34.98,423.33 L35.76,423.64 L36.55,423.95 L37.33,424.27 L38.12,424.58 L38.91,424.90 L39.69,425.23 L40.48,425.55 L41.26,425.88 L42.05,426.20 L42.84,426.53 L43.62,426.87 L44.41,427.20 L45.19,427.54 L45.98,427.88 L46.77,428.22 L47.55,428.56 L48.34,428.91 L49.12,429.25 L49.91,429.60 L50.70,429.95 L51.48,430.30 L52.27,430.66 L53.05,431.01 L53.84,431.36 L54.63,431.71 L55.41,432.07 L56.20,432.43 L56.98,432.79 L57.77,433.15 L58.56,433.52 L59.34,433.89 L60.13,434.26 L60.91,434.63 L61.70,435.01 L62.49,435.39 L63.27,435.77 L64.06,436.15 L64.84,436.54 L65.63,436.93 L66.42,437.33 L67.20,437.72 L67.99,438.12 L68.77,438.52 L69.56,438.92 L70.35,439.33 L71.13,439.74 L71.92,440.15 L72.70,440.56 L73.49,440.98 L74.28,441.40 L75.06,441.82 L75.85,442.25 L76.63,442.67 L77.42,443.10 L78.21,443.53 L78.99,443.97 L79.78,444.40 L80.56,444.84 L81.35,445.29 L82.14,445.73 L82.92,446.18 L83.71,446.63 L84.49,447.08 L85.28,447.53 L86.07,447.99 L86.85,448.45 L87.64,448.91 L88.42,449.37 L89.21,449.84 L90.00,450.31 L90.78,450.78 L91.57,451.25 L92.35,451.73 L93.14,452.21 L93.93,452.69 L94.71,453.17 L95.50,453.66 L96.28,454.14 L97.07,454.63 L97.86,455.12 L98.64,455.62 L99.43,456.12 L100.21,456.61 L101.00,457.12 L101.79,457.62 L102.57,458.13 L103.36,458.63 L104.14,459.14 L104.93,459.66 L105.72,460.17 L106.50,460.69 L107.29,461.21 L108.07,461.73 L108.86,462.25 L109.65,462.78 L110.43,463.30 L111.22,463.83 L112.00,464.37 L112.79,464.90 L113.58,465.44 L114.36,465.97 L115.15,466.52 L115.93,467.06 L116.72,467.60 L117.51,468.15 L118.29,468.70 L119.08,469.25 L119.86,469.80 L120.65,470.36 L121.44,470.91 L122.22,471.47 L123.01,472.03 L123.79,472.60 L124.58,473.16 L125.37,473.73 L126.15,474.30 L126.94,474.87 L127.72,475.44 L128.51,476.02 L129.30,476.59 L130.08,477.17 L130.87,477.75 L131.65,478.34 L132.44,478.92 L133.23,479.51 L134.01,480.09 L134.80,480.68 L135.58,481.28 L136.37,481.87 L137.16,482.47 L137.94,483.06 L138.73,483.66 L139.51,484.26 L140.30,484.87 L141.09,485.46 L141.87,486.03 L142.66,486.61 L143.44,487.18 L144.23,487.75 L145.02,488.31 L145.80,488.88 L146.59,489.44 L147.37,490.01 L148.16,490.57 L148.95,491.13 L149.73,491.69 L150.52,492.25 L151.30,492.81 L152.09,493.37 L152.88,493.93 L153.66,494.49 L154.45,495.05 L155.23,495.61 L156.02,496.17 L156.81,496.73 L157.59,497.29 L158.38,497.85 L159.16,498.41 L159.95,498.97 L160.74,499.53 L161.52,500.09 L162.31,500.65 L163.09,501.21 L163.88,501.77 L164.67,502.33 L165.45,502.89 L166.24,503.46 L167.02,504.02 L167.81,504.58 L168.60,505.14 L169.38,505.71 L170.17,506.27 L170.95,506.84 L171.74,507.40 L172.53,507.97 L173.31,508.53 L174.10,509.10 L174.88,509.66 L175.67,510.23 L176.46,510.80 L177.24,511.36 L178.03,511.93 L178.81,512.50 L179.60,513.07" stroke="#7cc4d4" stroke-width="0.80" stroke-dasharray="1 1.6" fill="none"/>
<path d="M22.40,423.94 L23.19,424.14 L23.97,424.34 L24.76,424.54 L25.54,424.75 L26.33,424.96 L27.12,425.18 L27.90,425.40 L28.69,425.62 L29.47,425.85 L30.26,426.08 L31.05,426.31 L31.83,426.55 L32.62,426.79 L33.40,427.03 L34.19,427.28 L34.98,427.53 L35.76,427.79 L36.55,428.05 L37.33,428.31 L38.12,428.58 L38.91,428.85 L39.69,429.12 L40.48,429.40 L41.26,429.68 L42.05,429.96 L42.84,430.25 L43.62,430.54 L44.41,430.83 L45.19,431.13 L45.98,431.44 L46.77,431.74 L47.55,432.05 L48.34,432.37 L49.12,432.68 L49.91,433.01 L50.70,433.33 L51.48,433.66 L52.27,434.00 L53.05,434.34 L53.84,434.68 L54.63,435.04 L55.41,435.39 L56.20,435.75 L56.98,436.11 L57.77,436.47 L58.56,436.84 L59.34,437.21 L60.13,437.58 L60.91,437.95 L61.70,438.33 L62.49,438.71 L63.27,439.09 L64.06,439.48 L64.84,439.86 L65.63,440.25 L66.42,440.65 L67.20,441.04 L67.99,441.44 L68.77,441.84 L69.56,442.24 L70.35,442.65 L71.13,443.06 L71.92,443.47 L72.70,443.88 L73.49,444.30 L74.28,444.72 L75.06,445.14 L75.85,445.57 L76.63,445.99 L77.42,446.42 L78.21,446.85 L78.99,447.29 L79.78,447.73 L80.56,448.16 L81.35,448.61 L82.14,449.05 L82.92,449.50 L83.71,449.95 L84.49,450.40 L85.28,450.85 L86.07,451.31 L86.85,451.77 L87.64,452.23 L88.42,452.69 L89.21,453.16 L90.00,453.63 L90.78,454.10 L91.57,454.57 L92.35,455.05 L93.14,455.53 L93.93,456.01 L94.71,456.49 L95.50,456.98 L96.28,457.46 L97.07,457.95 L97.86,458.45 L98.64,458.94 L99.43,459.44 L100.21,459.94 L101.00,460.44 L101.79,460.94 L102.57,461.45 L103.36,461.95 L104.14,462.46 L104.93,462.98 L105.72,463.49 L106.50,464.01 L107.29,464.53 L108.07,465.05 L108.86,465.57 L109.65,466.10 L110.43,466.62 L111.22,467.15 L112.00,467.69 L112.79,468.22 L113.58,468.76 L114.36,469.30 L115.15,469.84 L115.93,470.38 L116.72,470.92 L117.51,471.47 L118.29,472.02 L119.08,472.57 L119.86,473.12 L120.65,473.68 L121.44,474.23 L122.22,474.79 L123.01,475.35 L123.79,475.92 L124.58,476.48 L125.37,477.05 L126.15,477.62 L126.94,478.19 L127.72,478.76 L128.51,479.34 L129.30,479.91 L130.08,480.49 L130.87,481.07 L131.65,481.66 L132.44,482.24 L133.23,482.83 L134.01,483.42 L134.80,484.01 L135.58,484.60 L136.37,485.19 L137.16,485.79 L137.94,486.38 L138.73,486.98 L139.51,487.59 L140.30,488.19 L141.09,488.81 L141.87,489.44 L142.66,490.09 L143.44,490.74 L144.23,491.39 L145.02,492.05 L145.80,492.72 L146.59,493.39 L147.37,494.06 L148.16,494.74 L148.95,495.43 L149.73,496.11 L150.52,496.81 L151.30,497.50 L152.09,498.20 L152.88,498.90 L153.66,499.61 L154.45,500.32 L155.23,501.03 L156.02,501.74 L156.81,502.46 L157.59,503.18 L158.38,503.91 L159.16,504.64 L159.95,505.37 L160.74,506.10 L161.52,506.84 L162.31,507.58 L163.09,508.32 L163.88,509.07 L164.67,509.81 L165.45,510.57 L166.24,511.32 L167.02,512.08 L167.81,512.83 L168.60,513.60 L169.38,514.36 L170.17,515.13 L170.95,515.90 L171.74,516.67 L172.53,517.44 L173.31,518.22 L174.10,519.00 L174.88,519.78 L175.67,520.56 L176.46,521.35 L177.24,522.14 L178.03,522.93 L178.81,523.72 L179.60,524.52" stroke="#7cc4d4" stroke-width="0.80" stroke-dasharray="1 1.6" fill="none"/>
<path d="M22.40,421.33 L23.71,421.72 L25.02,422.12 L26.33,422.53 L27.64,422.94 L28.95,423.37 L30.26,423.80 L31.57,424.24 L32.88,424.69 L34.19,425.15 L35.50,425.62 L36.81,426.10 L38.12,426.58 L39.43,427.07 L40.74,427.57 L42.05,428.08 L43.36,428.60 L44.67,429.12 L45.98,429.66 L47.29,430.20 L48.60,430.75 L49.91,431.30 L51.22,431.87 L52.53,432.44 L53.84,433.02 L55.15,433.61 L56.46,434.21 L57.77,434.81 L59.08,435.42 L60.39,436.04 L61.70,436.67 L63.01,437.30 L64.32,437.94 L65.63,438.59 L66.94,439.25 L68.25,439.91 L69.56,440.58 L70.87,441.26 L72.18,441.95 L73.49,442.64 L74.80,443.34 L76.11,444.05 L77.42,444.76 L78.73,445.48 L80.04,446.21 L81.35,446.95 L82.66,447.69 L83.97,448.44 L85.28,449.19 L86.59,449.96 L87.90,450.72 L89.21,451.50 L90.52,452.28 L91.83,453.07 L93.14,453.87 L94.45,454.67 L95.76,455.48 L97.07,456.29 L98.38,457.11 L99.69,457.94 L101.00,458.78 L102.31,459.62 L103.62,460.46 L104.93,461.32 L106.24,462.18 L107.55,463.04 L108.86,463.91 L110.17,464.79 L111.48,465.67 L112.79,466.56 L114.10,467.46 L115.41,468.36 L116.72,469.26 L118.03,470.18 L119.34,471.09 L120.65,472.02 L121.96,472.95 L123.27,473.88 L124.58,474.82 L125.89,475.77 L127.20,476.72 L128.51,477.68 L129.82,478.64 L131.13,479.61 L132.44,480.58 L133.75,481.56 L135.06,482.54 L136.37,483.53 L137.68,484.52 L138.99,485.52 L140.30,486.53 L141.61,487.54 L142.92,488.55 L144.23,489.57 L145.54,490.59 L146.85,491.62 L148.16,492.66 L149.47,493.69 L150.78,494.74 L152.09,495.78 L153.40,496.84 L154.71,497.89 L156.02,498.96 L157.33,500.02 L158.64,501.09 L159.95,502.17 L161.26,503.25 L162.57,504.33 L163.88,505.42 L165.19,506.51 L166.50,507.61 L167.81,508.71 L169.12,509.81 L170.43,510.92 L171.74,512.03 L173.05,513.15 L174.36,514.27 L175.67,515.40 L176.98,516.53 L178.29,517.66 L179.60,518.79" stroke="#44889a" stroke-width="1.00" fill="none"/>
<circle cx="30.26" cy="423.45" r="1.35" fill="#5e3e58" fill-opacity="0.90"/>
<circle cx="38.12" cy="426.53" r="1.35" fill="#5e3e58" fill-opacity="0.90"/>
<circle cx="45.98" cy="430.32" r="1.35" fill="#5e3e58" fill-opacity="0.90"/>
<circle cx="53.84" cy="433.65" r="1.35" fill="#5e3e58" fill-opacity="0.90"/>
<circle cx="61.70" cy="436.97" r="1.35" fill="#5e3e58" fill-opacity="0.90"/>
<circle cx="69.56" cy="440.76" r="1.35" fill="#5e3e58" fill-opacity="0.90"/>
<circle cx="77.42" cy="445.03" r="1.35" fill="#5e3e58" fill-opacity="0.90"/>
<circle cx="85.28" cy="449.06" r="1.35" fill="#5e3e58" fill-opacity="0.90"/>
<circle cx="93.14" cy="453.10" r="1.35" fill="#5e3e58" fill-opacity="0.90"/>
<circle cx="101.00" cy="457.37" r="1.35" fill="#5e3e58" fill-opacity="0.90"/>
<circle cx="108.86" cy="462.58" r="1.35" fill="#5e3e58" fill-opacity="0.90"/>
<circle cx="116.72" cy="469.46" r="1.35" fill="#5e3e58" fill-opacity="0.90"/>
<circle cx="124.58" cy="475.39" r="1.35" fill="#5e3e58" fill-opacity="0.90"/>
<circle cx="132.44" cy="482.75" r="1.35" fill="#5e3e58" fill-opacity="0.90"/>
<circle cx="140.30" cy="487.25" r="1.35" fill="#5e3e58" fill-opacity="0.90"/>
<circle cx="148.16" cy="492.71" r="1.35" fill="#5e3e58" fill-opacity="0.90"/>
<circle cx="156.02" cy="497.45" r="1.35" fill="#5e3e58" fill-opacity="0.90"/>
</g>
<circle cx="118.10" cy="418.70" r="1.00" fill="#a02040" fill-opacity="0.90"/>
<path d="M112.10,425.60 H123.60" stroke="#44889a" stroke-width="0.80" stroke-opacity="0.85"/>
<path d="M112.10,432.60 H123.60" stroke="#7cc4d4" stroke-width="0.80" stroke-dasharray="1 1.6"/>
<text x="125.60" y="420.61" font-size="5.80" font-weight="bold" font-style="normal" text-anchor="start" fill="#0a0a0a" >Prevalence vs. Year</text>
<text x="125.60" y="427.51" font-size="5.80" font-weight="bold" font-style="normal" text-anchor="start" fill="#0a0a0a" >Reci-Exp2</text>
<text x="125.60" y="434.51" font-size="5.80" font-weight="bold" font-style="normal" text-anchor="start" fill="#0a0a0a" >Pred bnds (95%)</text>
<text x="29.20" y="498.79" font-size="8.20" font-weight="bold" font-style="normal" text-anchor="start" fill="#0a0a0a" >SSE: 56.42</text>
<text x="29.20" y="508.29" font-size="8.20" font-weight="bold" font-style="normal" text-anchor="start" fill="#0a0a0a" >R-square: 0.9986</text>
<text x="29.20" y="517.89" font-size="8.20" font-weight="bold" font-style="normal" text-anchor="start" fill="#0a0a0a" >Adjusted R-square: 0.9983</text>
<text x="29.20" y="527.19" font-size="8.20" font-weight="bold" font-style="normal" text-anchor="start" fill="#0a0a0a" >RMSE: 2.083</text>
<path d="M231.92,410.40 V528.80 M263.24,410.40 V528.80 M294.56,410.40 V528.80 M325.88,410.40 V528.80 M200.60,505.12 H357.20 M200.60,481.44 H357.20 M200.60,457.76 H357.20 M200.60,434.08 H357.20" stroke="#cfcfcf" stroke-width="0.90" fill="none"/>
<path d="M231.92,410.40 v1.60 M231.92,528.80 v-1.60 M263.24,410.40 v1.60 M263.24,528.80 v-1.60 M294.56,410.40 v1.60 M294.56,528.80 v-1.60 M325.88,410.40 v1.60 M325.88,528.80 v-1.60 M200.60,505.12 h1.60 M357.20,505.12 h-1.60 M200.60,481.44 h1.60 M357.20,481.44 h-1.60 M200.60,457.76 h1.60 M357.20,457.76 h-1.60 M200.60,434.08 h1.60 M357.20,434.08 h-1.60" stroke="#777777" stroke-width="0.90" fill="none"/>
<rect x="200.60" y="410.40" width="156.60" height="118.40" fill="none" stroke="#777777" stroke-width="0.90"/>
<text x="198.30" y="530.94" font-size="6.50" font-weight="bold" font-style="normal" text-anchor="end" fill="#0a0a0a" >200</text>
<text x="198.30" y="507.26" font-size="6.50" font-weight="bold" font-style="normal" text-anchor="end" fill="#0a0a0a" >250</text>
<text x="198.30" y="483.58" font-size="6.50" font-weight="bold" font-style="normal" text-anchor="end" fill="#0a0a0a" >300</text>
<text x="198.30" y="459.90" font-size="6.50" font-weight="bold" font-style="normal" text-anchor="end" fill="#0a0a0a" >350</text>
<text x="198.30" y="436.22" font-size="6.50" font-weight="bold" font-style="normal" text-anchor="end" fill="#0a0a0a" >400</text>
<text x="198.30" y="412.54" font-size="6.50" font-weight="bold" font-style="normal" text-anchor="end" fill="#0a0a0a" >450</text>
<text x="200.60" y="537.24" font-size="6.50" font-weight="bold" font-style="normal" text-anchor="middle" fill="#0a0a0a" >1999</text>
<text x="231.92" y="537.24" font-size="6.50" font-weight="bold" font-style="normal" text-anchor="middle" fill="#0a0a0a" >2003</text>
<text x="263.24" y="537.24" font-size="6.50" font-weight="bold" font-style="normal" text-anchor="middle" fill="#0a0a0a" >2007</text>
<text x="294.56" y="537.24" font-size="6.50" font-weight="bold" font-style="normal" text-anchor="middle" fill="#0a0a0a" >2011</text>
<text x="325.88" y="537.24" font-size="6.50" font-weight="bold" font-style="normal" text-anchor="middle" fill="#0a0a0a" >2015</text>
<text x="357.20" y="537.24" font-size="6.50" font-weight="bold" font-style="normal" text-anchor="middle" fill="#0a0a0a" >2019</text>
<text x="279.20" y="546.01" font-size="7.30" font-weight="bold" font-style="normal" text-anchor="middle" fill="#0a0a0a" letter-spacing="0.60">Year</text>
<text x="0" y="0" font-size="7.40" font-weight="bold" text-anchor="middle" fill="#0a0a0a" transform="translate(186.92,469.60) rotate(-90)">Prevalence</text>
<clipPath id="c5"><rect x="200.60" y="410.40" width="156.60" height="118.40"/></clipPath>
<g clip-path="url(#c5)">
<path d="M200.60,419.43 L201.38,419.66 L202.17,419.89 L202.95,420.13 L203.73,420.37 L204.51,420.62 L205.30,420.87 L206.08,421.12 L206.86,421.38 L207.65,421.64 L208.43,421.90 L209.21,422.17 L210.00,422.44 L210.78,422.72 L211.56,423.00 L212.34,423.28 L213.13,423.56 L213.91,423.85 L214.69,424.15 L215.48,424.44 L216.26,424.74 L217.04,425.04 L217.83,425.35 L218.61,425.66 L219.39,425.97 L220.17,426.28 L220.96,426.60 L221.74,426.92 L222.52,427.25 L223.31,427.57 L224.09,427.90 L224.87,428.24 L225.66,428.57 L226.44,428.91 L227.22,429.25 L228.00,429.59 L228.79,429.94 L229.57,430.28 L230.35,430.63 L231.14,430.98 L231.92,431.33 L232.70,431.68 L233.49,432.04 L234.27,432.39 L235.05,432.75 L235.83,433.12 L236.62,433.48 L237.40,433.85 L238.18,434.23 L238.97,434.60 L239.75,434.98 L240.53,435.37 L241.32,435.75 L242.10,436.14 L242.88,436.54 L243.66,436.93 L244.45,437.33 L245.23,437.73 L246.01,438.13 L246.80,438.54 L247.58,438.95 L248.36,439.37 L249.15,439.78 L249.93,440.20 L250.71,440.62 L251.50,441.05 L252.28,441.48 L253.06,441.91 L253.84,442.34 L254.63,442.77 L255.41,443.21 L256.19,443.65 L256.98,444.10 L257.76,444.54 L258.54,444.99 L259.32,445.45 L260.11,445.90 L260.89,446.36 L261.67,446.82 L262.46,447.28 L263.24,447.74 L264.02,448.21 L264.81,448.68 L265.59,449.15 L266.37,449.62 L267.15,450.10 L267.94,450.58 L268.72,451.06 L269.50,451.54 L270.29,452.03 L271.07,452.51 L271.85,453.00 L272.64,453.49 L273.42,453.99 L274.20,454.48 L274.99,454.98 L275.77,455.48 L276.55,455.99 L277.33,456.49 L278.12,457.00 L278.90,457.50 L279.68,458.01 L280.47,458.53 L281.25,459.04 L282.03,459.56 L282.81,460.07 L283.60,460.59 L284.38,461.12 L285.16,461.64 L285.95,462.16 L286.73,462.69 L287.51,463.22 L288.30,463.75 L289.08,464.28 L289.86,464.81 L290.64,465.35 L291.43,465.89 L292.21,466.42 L292.99,466.96 L293.78,467.51 L294.56,468.05 L295.34,468.59 L296.13,469.14 L296.91,469.68 L297.69,470.23 L298.48,470.78 L299.26,471.33 L300.04,471.89 L300.82,472.44 L301.61,473.00 L302.39,473.55 L303.17,474.11 L303.96,474.67 L304.74,475.23 L305.52,475.79 L306.31,476.35 L307.09,476.91 L307.87,477.48 L308.65,478.04 L309.44,478.61 L310.22,479.18 L311.00,479.75 L311.79,480.32 L312.57,480.89 L313.35,481.46 L314.13,482.03 L314.92,482.60 L315.70,483.18 L316.48,483.75 L317.27,484.33 L318.05,484.90 L318.83,485.48 L319.62,486.06 L320.40,486.63 L321.18,487.21 L321.96,487.79 L322.75,488.37 L323.53,488.95 L324.31,489.54 L325.10,490.12 L325.88,490.70 L326.66,491.28 L327.45,491.85 L328.23,492.43 L329.01,493.00 L329.79,493.57 L330.58,494.14 L331.36,494.71 L332.14,495.27 L332.93,495.84 L333.71,496.40 L334.49,496.97 L335.28,497.53 L336.06,498.10 L336.84,498.66 L337.62,499.22 L338.41,499.78 L339.19,500.34 L339.97,500.90 L340.76,501.46 L341.54,502.02 L342.32,502.57 L343.11,503.13 L343.89,503.69 L344.67,504.24 L345.45,504.80 L346.24,505.35 L347.02,505.90 L347.80,506.45 L348.59,507.00 L349.37,507.55 L350.15,508.10 L350.94,508.65 L351.72,509.20 L352.50,509.75 L353.28,510.29 L354.07,510.84 L354.85,511.38 L355.63,511.92 L356.42,512.47 L357.20,513.01" stroke="#e4a49a" stroke-width="0.80" stroke-dasharray="1 1.6" fill="none"/>
<path d="M200.60,424.16 L201.38,424.32 L202.17,424.49 L202.95,424.66 L203.73,424.83 L204.51,425.01 L205.30,425.19 L206.08,425.38 L206.86,425.58 L207.65,425.77 L208.43,425.98 L209.21,426.18 L210.00,426.39 L210.78,426.61 L211.56,426.83 L212.34,427.06 L213.13,427.29 L213.91,427.52 L214.69,427.76 L215.48,428.00 L216.26,428.25 L217.04,428.50 L217.83,428.76 L218.61,429.02 L219.39,429.29 L220.17,429.56 L220.96,429.84 L221.74,430.12 L222.52,430.40 L223.31,430.69 L224.09,430.98 L224.87,431.28 L225.66,431.58 L226.44,431.89 L227.22,432.20 L228.00,432.52 L228.79,432.84 L229.57,433.16 L230.35,433.49 L231.14,433.83 L231.92,434.17 L232.70,434.52 L233.49,434.88 L234.27,435.24 L235.05,435.60 L235.83,435.96 L236.62,436.33 L237.40,436.70 L238.18,437.07 L238.97,437.45 L239.75,437.83 L240.53,438.21 L241.32,438.60 L242.10,438.98 L242.88,439.38 L243.66,439.77 L244.45,440.17 L245.23,440.57 L246.01,440.98 L246.80,441.38 L247.58,441.79 L248.36,442.21 L249.15,442.62 L249.93,443.04 L250.71,443.46 L251.50,443.89 L252.28,444.32 L253.06,444.75 L253.84,445.18 L254.63,445.62 L255.41,446.05 L256.19,446.50 L256.98,446.94 L257.76,447.39 L258.54,447.84 L259.32,448.29 L260.11,448.74 L260.89,449.20 L261.67,449.66 L262.46,450.12 L263.24,450.58 L264.02,451.05 L264.81,451.52 L265.59,451.99 L266.37,452.46 L267.15,452.94 L267.94,453.42 L268.72,453.90 L269.50,454.38 L270.29,454.87 L271.07,455.35 L271.85,455.84 L272.64,456.34 L273.42,456.83 L274.20,457.33 L274.99,457.82 L275.77,458.32 L276.55,458.83 L277.33,459.33 L278.12,459.84 L278.90,460.35 L279.68,460.86 L280.47,461.37 L281.25,461.88 L282.03,462.40 L282.81,462.92 L283.60,463.44 L284.38,463.96 L285.16,464.48 L285.95,465.01 L286.73,465.53 L287.51,466.06 L288.30,466.59 L289.08,467.12 L289.86,467.66 L290.64,468.19 L291.43,468.73 L292.21,469.27 L292.99,469.81 L293.78,470.35 L294.56,470.89 L295.34,471.43 L296.13,471.98 L296.91,472.53 L297.69,473.07 L298.48,473.62 L299.26,474.18 L300.04,474.73 L300.82,475.28 L301.61,475.84 L302.39,476.39 L303.17,476.95 L303.96,477.51 L304.74,478.07 L305.52,478.63 L306.31,479.19 L307.09,479.76 L307.87,480.32 L308.65,480.89 L309.44,481.45 L310.22,482.02 L311.00,482.59 L311.79,483.16 L312.57,483.73 L313.35,484.30 L314.13,484.87 L314.92,485.44 L315.70,486.02 L316.48,486.59 L317.27,487.17 L318.05,487.74 L318.83,488.32 L319.62,488.90 L320.40,489.48 L321.18,490.05 L321.96,490.63 L322.75,491.21 L323.53,491.80 L324.31,492.38 L325.10,492.96 L325.88,493.54 L326.66,494.13 L327.45,494.72 L328.23,495.31 L329.01,495.91 L329.79,496.51 L330.58,497.11 L331.36,497.71 L332.14,498.32 L332.93,498.92 L333.71,499.53 L334.49,500.14 L335.28,500.75 L336.06,501.36 L336.84,501.97 L337.62,502.58 L338.41,503.20 L339.19,503.81 L339.97,504.43 L340.76,505.05 L341.54,505.66 L342.32,506.28 L343.11,506.90 L343.89,507.52 L344.67,508.14 L345.45,508.76 L346.24,509.38 L347.02,510.00 L347.80,510.63 L348.59,511.25 L349.37,511.87 L350.15,512.50 L350.94,513.12 L351.72,513.74 L352.50,514.37 L353.28,514.99 L354.07,515.62 L354.85,516.24 L355.63,516.87 L356.42,517.50 L357.20,518.12" stroke="#e4a49a" stroke-width="0.80" stroke-dasharray="1 1.6" fill="none"/>
<path d="M200.60,421.80 L201.91,422.12 L203.21,422.46 L204.51,422.81 L205.82,423.18 L207.12,423.55 L208.43,423.94 L209.73,424.34 L211.04,424.75 L212.34,425.17 L213.65,425.60 L214.95,426.04 L216.26,426.50 L217.56,426.96 L218.87,427.44 L220.17,427.92 L221.48,428.42 L222.78,428.93 L224.09,429.44 L225.39,429.97 L226.70,430.51 L228.00,431.05 L229.31,431.61 L230.61,432.18 L231.92,432.75 L233.22,433.34 L234.53,433.93 L235.83,434.54 L237.14,435.15 L238.44,435.77 L239.75,436.41 L241.06,437.05 L242.36,437.69 L243.66,438.35 L244.97,439.02 L246.27,439.69 L247.58,440.37 L248.88,441.06 L250.19,441.76 L251.50,442.47 L252.80,443.18 L254.10,443.90 L255.41,444.63 L256.71,445.37 L258.02,446.11 L259.32,446.87 L260.63,447.62 L261.94,448.39 L263.24,449.16 L264.54,449.94 L265.85,450.73 L267.15,451.52 L268.46,452.32 L269.76,453.12 L271.07,453.93 L272.38,454.75 L273.68,455.57 L274.99,456.40 L276.29,457.24 L277.60,458.08 L278.90,458.93 L280.20,459.78 L281.51,460.63 L282.81,461.50 L284.12,462.36 L285.43,463.23 L286.73,464.11 L288.03,464.99 L289.34,465.88 L290.64,466.77 L291.95,467.67 L293.25,468.56 L294.56,469.47 L295.87,470.38 L297.17,471.29 L298.48,472.20 L299.78,473.12 L301.08,474.05 L302.39,474.97 L303.69,475.90 L305.00,476.84 L306.31,477.77 L307.61,478.71 L308.92,479.65 L310.22,480.60 L311.52,481.55 L312.83,482.50 L314.13,483.45 L315.44,484.40 L316.75,485.36 L318.05,486.32 L319.36,487.28 L320.66,488.25 L321.96,489.21 L323.27,490.18 L324.57,491.15 L325.88,492.12 L327.19,493.09 L328.49,494.07 L329.79,495.04 L331.10,496.01 L332.40,496.99 L333.71,497.97 L335.01,498.95 L336.32,499.92 L337.62,500.90 L338.93,501.88 L340.24,502.86 L341.54,503.84 L342.85,504.82 L344.15,505.80 L345.45,506.78 L346.76,507.76 L348.06,508.74 L349.37,509.71 L350.67,510.69 L351.98,511.67 L353.28,512.64 L354.59,513.62 L355.89,514.59 L357.20,515.56" stroke="#c47a64" stroke-width="1.00" fill="none"/>
<path d="M206.33,423.42 L210.53,423.42 M207.38,421.61 L209.48,425.24 M209.48,421.61 L207.38,425.24" stroke="#e89a9a" stroke-width="0.70" fill="none"/>
<circle cx="208.43" cy="423.42" r="1.35" fill="#a83a48" fill-opacity="0.90"/>
<path d="M214.16,426.50 L218.36,426.50 M215.21,424.68 L217.31,428.32 M217.31,424.68 L215.21,428.32" stroke="#e89a9a" stroke-width="0.70" fill="none"/>
<circle cx="216.26" cy="426.50" r="1.35" fill="#a83a48" fill-opacity="0.90"/>
<path d="M221.99,430.29 L226.19,430.29 M223.04,428.47 L225.14,432.11 M225.14,428.47 L223.04,432.11" stroke="#e89a9a" stroke-width="0.70" fill="none"/>
<circle cx="224.09" cy="430.29" r="1.35" fill="#a83a48" fill-opacity="0.90"/>
<path d="M229.82,433.61 L234.02,433.61 M230.87,431.79 L232.97,435.43 M232.97,431.79 L230.87,435.43" stroke="#e89a9a" stroke-width="0.70" fill="none"/>
<circle cx="231.92" cy="433.61" r="1.35" fill="#a83a48" fill-opacity="0.90"/>
<path d="M237.65,436.92 L241.85,436.92 M238.70,435.10 L240.80,438.74 M240.80,435.10 L238.70,438.74" stroke="#e89a9a" stroke-width="0.70" fill="none"/>
<circle cx="239.75" cy="436.92" r="1.35" fill="#a83a48" fill-opacity="0.90"/>
<path d="M245.48,440.71 L249.68,440.71 M246.53,438.89 L248.63,442.53 M248.63,438.89 L246.53,442.53" stroke="#e89a9a" stroke-width="0.70" fill="none"/>
<circle cx="247.58" cy="440.71" r="1.35" fill="#a83a48" fill-opacity="0.90"/>
<path d="M253.31,444.97 L257.51,444.97 M254.36,443.15 L256.46,446.79 M256.46,443.15 L254.36,446.79" stroke="#e89a9a" stroke-width="0.70" fill="none"/>
<circle cx="255.41" cy="444.97" r="1.35" fill="#a83a48" fill-opacity="0.90"/>
<path d="M261.14,449.00 L265.34,449.00 M262.19,447.18 L264.29,450.82 M264.29,447.18 L262.19,450.82" stroke="#e89a9a" stroke-width="0.70" fill="none"/>
<circle cx="263.24" cy="449.00" r="1.35" fill="#a83a48" fill-opacity="0.90"/>
<path d="M268.97,453.02 L273.17,453.02 M270.02,451.21 L272.12,454.84 M272.12,451.21 L270.02,454.84" stroke="#e89a9a" stroke-width="0.70" fill="none"/>
<circle cx="271.07" cy="453.02" r="1.35" fill="#a83a48" fill-opacity="0.90"/>
<path d="M276.80,457.29 L281.00,457.29 M277.85,455.47 L279.95,459.11 M279.95,455.47 L277.85,459.11" stroke="#e89a9a" stroke-width="0.70" fill="none"/>
<circle cx="278.90" cy="457.29" r="1.35" fill="#a83a48" fill-opacity="0.90"/>
<path d="M284.63,462.50 L288.83,462.50 M285.68,460.68 L287.78,464.31 M287.78,460.68 L285.68,464.31" stroke="#e89a9a" stroke-width="0.70" fill="none"/>
<circle cx="286.73" cy="462.50" r="1.35" fill="#a83a48" fill-opacity="0.90"/>
<path d="M292.46,469.36 L296.66,469.36 M293.51,467.54 L295.61,471.18 M295.61,467.54 L293.51,471.18" stroke="#e89a9a" stroke-width="0.70" fill="none"/>
<circle cx="294.56" cy="469.36" r="1.35" fill="#a83a48" fill-opacity="0.90"/>
<path d="M300.29,475.28 L304.49,475.28 M301.34,473.46 L303.44,477.10 M303.44,473.46 L301.34,477.10" stroke="#e89a9a" stroke-width="0.70" fill="none"/>
<circle cx="302.39" cy="475.28" r="1.35" fill="#a83a48" fill-opacity="0.90"/>
<path d="M308.12,482.62 L312.32,482.62 M309.17,480.81 L311.27,484.44 M311.27,480.81 L309.17,484.44" stroke="#e89a9a" stroke-width="0.70" fill="none"/>
<circle cx="310.22" cy="482.62" r="1.35" fill="#a83a48" fill-opacity="0.90"/>
<path d="M315.95,487.12 L320.15,487.12 M317.00,485.30 L319.10,488.94 M319.10,485.30 L317.00,488.94" stroke="#e89a9a" stroke-width="0.70" fill="none"/>
<circle cx="318.05" cy="487.12" r="1.35" fill="#a83a48" fill-opacity="0.90"/>
<path d="M323.78,492.57 L327.98,492.57 M324.83,490.75 L326.93,494.39 M326.93,490.75 L324.83,494.39" stroke="#e89a9a" stroke-width="0.70" fill="none"/>
<circle cx="325.88" cy="492.57" r="1.35" fill="#a83a48" fill-opacity="0.90"/>
<path d="M331.61,497.31 L335.81,497.31 M332.66,495.49 L334.76,499.12 M334.76,495.49 L332.66,499.12" stroke="#e89a9a" stroke-width="0.70" fill="none"/>
<circle cx="333.71" cy="497.31" r="1.35" fill="#a83a48" fill-opacity="0.90"/>
</g>
<circle cx="295.70" cy="418.70" r="1.00" fill="#a02040" fill-opacity="0.90"/>
<path d="M289.70,425.60 H301.20" stroke="#c47a64" stroke-width="0.80" stroke-opacity="0.85"/>
<path d="M289.70,432.60 H301.20" stroke="#e4a49a" stroke-width="0.80" stroke-dasharray="1 1.6"/>
<text x="303.20" y="420.61" font-size="5.80" font-weight="bold" font-style="normal" text-anchor="start" fill="#0a0a0a" >Prevalence vs. Year</text>
<text x="303.20" y="427.51" font-size="5.80" font-weight="bold" font-style="normal" text-anchor="start" fill="#0a0a0a" >Power2-Ploy2</text>
<text x="303.20" y="434.51" font-size="5.80" font-weight="bold" font-style="normal" text-anchor="start" fill="#0a0a0a" >Pred bnds (95%)</text>
<text x="207.40" y="497.79" font-size="8.20" font-weight="bold" font-style="normal" text-anchor="start" fill="#0a0a0a" >SSE: 64.3</text>
<text x="207.40" y="507.29" font-size="8.20" font-weight="bold" font-style="normal" text-anchor="start" fill="#0a0a0a" >R-square: 0.9984</text>
<text x="207.40" y="516.89" font-size="8.20" font-weight="bold" font-style="normal" text-anchor="start" fill="#0a0a0a" >Adjusted R-square: 0.9982</text>
<text x="207.40" y="526.19" font-size="8.20" font-weight="bold" font-style="normal" text-anchor="start" fill="#0a0a0a" >RMSE: 2.143</text>
<path d="M409.92,410.40 V528.60 M441.24,410.40 V528.60 M472.56,410.40 V528.60 M503.88,410.40 V528.60 M378.60,504.96 H535.20 M378.60,481.32 H535.20 M378.60,457.68 H535.20 M378.60,434.04 H535.20" stroke="#cfcfcf" stroke-width="0.90" fill="none"/>
<path d="M409.92,410.40 v1.60 M409.92,528.60 v-1.60 M441.24,410.40 v1.60 M441.24,528.60 v-1.60 M472.56,410.40 v1.60 M472.56,528.60 v-1.60 M503.88,410.40 v1.60 M503.88,528.60 v-1.60 M378.60,504.96 h1.60 M535.20,504.96 h-1.60 M378.60,481.32 h1.60 M535.20,481.32 h-1.60 M378.60,457.68 h1.60 M535.20,457.68 h-1.60 M378.60,434.04 h1.60 M535.20,434.04 h-1.60" stroke="#777777" stroke-width="0.90" fill="none"/>
<rect x="378.60" y="410.40" width="156.60" height="118.20" fill="none" stroke="#777777" stroke-width="0.90"/>
<text x="376.30" y="530.75" font-size="6.50" font-weight="bold" font-style="normal" text-anchor="end" fill="#0a0a0a" >200</text>
<text x="376.30" y="507.11" font-size="6.50" font-weight="bold" font-style="normal" text-anchor="end" fill="#0a0a0a" >250</text>
<text x="376.30" y="483.46" font-size="6.50" font-weight="bold" font-style="normal" text-anchor="end" fill="#0a0a0a" >300</text>
<text x="376.30" y="459.82" font-size="6.50" font-weight="bold" font-style="normal" text-anchor="end" fill="#0a0a0a" >350</text>
<text x="376.30" y="436.18" font-size="6.50" font-weight="bold" font-style="normal" text-anchor="end" fill="#0a0a0a" >400</text>
<text x="376.30" y="412.54" font-size="6.50" font-weight="bold" font-style="normal" text-anchor="end" fill="#0a0a0a" >450</text>
<text x="378.60" y="537.04" font-size="6.50" font-weight="bold" font-style="normal" text-anchor="middle" fill="#0a0a0a" >1999</text>
<text x="409.92" y="537.04" font-size="6.50" font-weight="bold" font-style="normal" text-anchor="middle" fill="#0a0a0a" >2003</text>
<text x="441.24" y="537.04" font-size="6.50" font-weight="bold" font-style="normal" text-anchor="middle" fill="#0a0a0a" >2007</text>
<text x="472.56" y="537.04" font-size="6.50" font-weight="bold" font-style="normal" text-anchor="middle" fill="#0a0a0a" >2011</text>
<text x="503.88" y="537.04" font-size="6.50" font-weight="bold" font-style="normal" text-anchor="middle" fill="#0a0a0a" >2015</text>
<text x="535.20" y="537.04" font-size="6.50" font-weight="bold" font-style="normal" text-anchor="middle" fill="#0a0a0a" >2019</text>
<text x="457.20" y="545.81" font-size="7.30" font-weight="bold" font-style="normal" text-anchor="middle" fill="#0a0a0a" letter-spacing="0.60">Year</text>
<text x="0" y="0" font-size="7.40" font-weight="bold" text-anchor="middle" fill="#0a0a0a" transform="translate(364.92,469.50) rotate(-90)">Prevalence</text>
<clipPath id="c6"><rect x="378.60" y="410.40" width="156.60" height="118.20"/></clipPath>
<g clip-path="url(#c6)">
<path d="M378.60,420.43 L379.91,420.80 L381.21,421.17 L382.52,421.56 L383.82,421.95 L385.12,422.36 L386.43,422.77 L387.74,423.20 L389.04,423.63 L390.35,424.07 L391.65,424.52 L392.96,424.99 L394.26,425.46 L395.56,425.94 L396.87,426.43 L398.18,426.92 L399.48,427.43 L400.79,427.95 L402.09,428.48 L403.40,429.01 L404.70,429.56 L406.01,430.11 L407.31,430.67 L408.62,431.24 L409.92,431.82 L411.23,432.41 L412.53,433.01 L413.84,433.62 L415.14,434.24 L416.45,434.86 L417.75,435.49 L419.06,436.13 L420.36,436.79 L421.67,437.44 L422.97,438.11 L424.28,438.79 L425.58,439.47 L426.89,440.16 L428.19,440.86 L429.50,441.57 L430.80,442.29 L432.11,443.01 L433.41,443.75 L434.72,444.49 L436.02,445.24 L437.33,445.99 L438.63,446.76 L439.94,447.53 L441.24,448.30 L442.55,449.09 L443.85,449.88 L445.16,450.68 L446.46,451.49 L447.77,452.30 L449.07,453.12 L450.38,453.95 L451.68,454.79 L452.99,455.63 L454.29,456.47 L455.60,457.33 L456.90,458.19 L458.21,459.05 L459.51,459.92 L460.82,460.80 L462.12,461.68 L463.43,462.57 L464.73,463.47 L466.04,464.37 L467.34,465.27 L468.65,466.18 L469.95,467.10 L471.26,468.02 L472.56,468.94 L473.87,469.87 L475.17,470.81 L476.48,471.74 L477.78,472.69 L479.09,473.63 L480.39,474.58 L481.70,475.54 L483.00,476.50 L484.31,477.46 L485.61,478.43 L486.92,479.39 L488.22,480.37 L489.53,481.30 L490.83,482.24 L492.14,483.18 L493.44,484.13 L494.75,485.08 L496.05,486.03 L497.36,486.98 L498.66,487.94 L499.97,488.89 L501.27,489.85 L502.58,490.82 L503.88,491.78 L505.19,492.75 L506.49,493.72 L507.80,494.69 L509.10,495.66 L510.41,496.64 L511.71,497.61 L513.02,498.59 L514.32,499.57 L515.62,500.55 L516.93,501.54 L518.24,502.52 L519.54,503.51 L520.85,504.49 L522.15,505.48 L523.46,506.47 L524.76,507.46 L526.07,508.45 L527.37,509.44 L528.68,510.43 L529.98,511.43 L531.29,512.42 L532.59,513.41 L533.89,514.41 L535.20,515.40" stroke="#f2f2c8" stroke-width="2.60" fill="none"/>
<path d="M378.60,417.36 L379.38,417.58 L380.17,417.80 L380.95,418.02 L381.73,418.25 L382.52,418.49 L383.30,418.72 L384.08,418.96 L384.86,419.20 L385.65,419.45 L386.43,419.70 L387.21,419.95 L388.00,420.21 L388.78,420.47 L389.56,420.73 L390.35,421.00 L391.13,421.27 L391.91,421.54 L392.69,421.82 L393.48,422.10 L394.26,422.38 L395.04,422.67 L395.83,422.96 L396.61,423.25 L397.39,423.55 L398.18,423.85 L398.96,424.15 L399.74,424.46 L400.52,424.77 L401.31,425.09 L402.09,425.40 L402.87,425.72 L403.66,426.05 L404.44,426.37 L405.22,426.70 L406.01,427.04 L406.79,427.37 L407.57,427.71 L408.35,428.06 L409.14,428.40 L409.92,428.75 L410.70,429.10 L411.49,429.46 L412.27,429.82 L413.05,430.18 L413.84,430.55 L414.62,430.91 L415.40,431.29 L416.18,431.66 L416.97,432.04 L417.75,432.42 L418.53,432.80 L419.32,433.19 L420.10,433.58 L420.88,433.97 L421.67,434.37 L422.45,434.77 L423.23,435.17 L424.01,435.58 L424.80,435.99 L425.58,436.40 L426.36,436.81 L427.15,437.23 L427.93,437.65 L428.71,438.07 L429.50,438.50 L430.28,438.93 L431.06,439.36 L431.84,439.80 L432.63,440.23 L433.41,440.67 L434.19,441.12 L434.98,441.56 L435.76,442.01 L436.54,442.46 L437.33,442.92 L438.11,443.38 L438.89,443.84 L439.67,444.30 L440.46,444.76 L441.24,445.23 L442.02,445.70 L442.81,446.17 L443.59,446.65 L444.37,447.13 L445.16,447.61 L445.94,448.09 L446.72,448.58 L447.50,449.07 L448.29,449.56 L449.07,450.05 L449.85,450.55 L450.64,451.04 L451.42,451.55 L452.20,452.05 L452.99,452.55 L453.77,453.06 L454.55,453.57 L455.33,454.08 L456.12,454.60 L456.90,455.11 L457.68,455.63 L458.47,456.15 L459.25,456.68 L460.03,457.20 L460.82,457.73 L461.60,458.26 L462.38,458.79 L463.16,459.32 L463.95,459.86 L464.73,460.39 L465.51,460.93 L466.30,461.47 L467.08,462.02 L467.86,462.56 L468.65,463.11 L469.43,463.66 L470.21,464.21 L470.99,464.76 L471.78,465.31 L472.56,465.87 L473.34,466.43 L474.13,466.99 L474.91,467.55 L475.69,468.11 L476.48,468.67 L477.26,469.24 L478.04,469.80 L478.82,470.37 L479.61,470.94 L480.39,471.51 L481.17,472.08 L481.96,472.66 L482.74,473.23 L483.52,473.81 L484.31,474.39 L485.09,474.97 L485.87,475.55 L486.65,476.13 L487.44,476.71 L488.22,477.29 L489.00,477.85 L489.79,478.42 L490.57,478.98 L491.35,479.55 L492.14,480.11 L492.92,480.68 L493.70,481.25 L494.48,481.81 L495.27,482.38 L496.05,482.95 L496.83,483.53 L497.62,484.10 L498.40,484.67 L499.18,485.25 L499.97,485.82 L500.75,486.40 L501.53,486.97 L502.31,487.55 L503.10,488.13 L503.88,488.71 L504.66,489.28 L505.45,489.86 L506.23,490.43 L507.01,491.00 L507.80,491.57 L508.58,492.13 L509.36,492.70 L510.14,493.27 L510.93,493.83 L511.71,494.40 L512.49,494.96 L513.28,495.53 L514.06,496.09 L514.84,496.66 L515.62,497.22 L516.41,497.78 L517.19,498.35 L517.97,498.91 L518.76,499.47 L519.54,500.03 L520.32,500.59 L521.11,501.15 L521.89,501.71 L522.67,502.28 L523.46,502.84 L524.24,503.40 L525.02,503.95 L525.80,504.51 L526.59,505.07 L527.37,505.63 L528.15,506.19 L528.94,506.75 L529.72,507.30 L530.50,507.86 L531.29,508.42 L532.07,508.97 L532.85,509.53 L533.63,510.09 L534.42,510.64 L535.20,511.19" stroke="#cccc66" stroke-width="0.80" stroke-dasharray="1 1.6" fill="none"/>
<path d="M378.60,421.76 L379.38,421.97 L380.17,422.20 L380.95,422.42 L381.73,422.65 L382.52,422.88 L383.30,423.12 L384.08,423.36 L384.86,423.60 L385.65,423.85 L386.43,424.10 L387.21,424.35 L388.00,424.61 L388.78,424.87 L389.56,425.13 L390.35,425.40 L391.13,425.67 L391.91,425.94 L392.69,426.22 L393.48,426.50 L394.26,426.78 L395.04,427.07 L395.83,427.36 L396.61,427.65 L397.39,427.95 L398.18,428.25 L398.96,428.55 L399.74,428.86 L400.52,429.17 L401.31,429.48 L402.09,429.80 L402.87,430.12 L403.66,430.44 L404.44,430.77 L405.22,431.10 L406.01,431.43 L406.79,431.77 L407.57,432.11 L408.35,432.45 L409.14,432.80 L409.92,433.15 L410.70,433.50 L411.49,433.86 L412.27,434.22 L413.05,434.58 L413.84,434.94 L414.62,435.31 L415.40,435.68 L416.18,436.06 L416.97,436.44 L417.75,436.82 L418.53,437.20 L419.32,437.59 L420.10,437.98 L420.88,438.37 L421.67,438.77 L422.45,439.17 L423.23,439.57 L424.01,439.98 L424.80,440.38 L425.58,440.80 L426.36,441.21 L427.15,441.63 L427.93,442.05 L428.71,442.47 L429.50,442.90 L430.28,443.33 L431.06,443.76 L431.84,444.19 L432.63,444.63 L433.41,445.07 L434.19,445.51 L434.98,445.96 L435.76,446.41 L436.54,446.86 L437.33,447.32 L438.11,447.77 L438.89,448.23 L439.67,448.70 L440.46,449.16 L441.24,449.63 L442.02,450.10 L442.81,450.57 L443.59,451.05 L444.37,451.53 L445.16,452.01 L445.94,452.49 L446.72,452.98 L447.50,453.46 L448.29,453.95 L449.07,454.45 L449.85,454.94 L450.64,455.44 L451.42,455.94 L452.20,456.44 L452.99,456.95 L453.77,457.46 L454.55,457.97 L455.33,458.48 L456.12,458.99 L456.90,459.51 L457.68,460.03 L458.47,460.55 L459.25,461.07 L460.03,461.60 L460.82,462.12 L461.60,462.65 L462.38,463.19 L463.16,463.72 L463.95,464.25 L464.73,464.79 L465.51,465.33 L466.30,465.87 L467.08,466.41 L467.86,466.96 L468.65,467.51 L469.43,468.05 L470.21,468.60 L470.99,469.16 L471.78,469.71 L472.56,470.27 L473.34,470.82 L474.13,471.38 L474.91,471.94 L475.69,472.50 L476.48,473.07 L477.26,473.63 L478.04,474.20 L478.82,474.77 L479.61,475.34 L480.39,475.91 L481.17,476.48 L481.96,477.05 L482.74,477.63 L483.52,478.21 L484.31,478.78 L485.09,479.36 L485.87,479.94 L486.65,480.52 L487.44,481.11 L488.22,481.69 L489.00,482.25 L489.79,482.81 L490.57,483.38 L491.35,483.94 L492.14,484.51 L492.92,485.07 L493.70,485.64 L494.48,486.21 L495.27,486.78 L496.05,487.35 L496.83,487.92 L497.62,488.50 L498.40,489.07 L499.18,489.64 L499.97,490.22 L500.75,490.79 L501.53,491.37 L502.31,491.95 L503.10,492.53 L503.88,493.11 L504.66,493.69 L505.45,494.28 L506.23,494.87 L507.01,495.47 L507.80,496.06 L508.58,496.66 L509.36,497.26 L510.14,497.87 L510.93,498.47 L511.71,499.08 L512.49,499.69 L513.28,500.30 L514.06,500.91 L514.84,501.52 L515.62,502.14 L516.41,502.75 L517.19,503.37 L517.97,503.99 L518.76,504.61 L519.54,505.23 L520.32,505.85 L521.11,506.48 L521.89,507.10 L522.67,507.73 L523.46,508.35 L524.24,508.98 L525.02,509.61 L525.80,510.24 L526.59,510.87 L527.37,511.50 L528.15,512.13 L528.94,512.77 L529.72,513.40 L530.50,514.04 L531.29,514.67 L532.07,515.31 L532.85,515.95 L533.63,516.58 L534.42,517.22 L535.20,517.86" stroke="#cccc66" stroke-width="0.80" stroke-dasharray="1 1.6" fill="none"/>
<path d="M378.60,420.43 L379.91,420.80 L381.21,421.17 L382.52,421.56 L383.82,421.95 L385.12,422.36 L386.43,422.77 L387.74,423.20 L389.04,423.63 L390.35,424.07 L391.65,424.52 L392.96,424.99 L394.26,425.46 L395.56,425.94 L396.87,426.43 L398.18,426.92 L399.48,427.43 L400.79,427.95 L402.09,428.48 L403.40,429.01 L404.70,429.56 L406.01,430.11 L407.31,430.67 L408.62,431.24 L409.92,431.82 L411.23,432.41 L412.53,433.01 L413.84,433.62 L415.14,434.24 L416.45,434.86 L417.75,435.49 L419.06,436.13 L420.36,436.79 L421.67,437.44 L422.97,438.11 L424.28,438.79 L425.58,439.47 L426.89,440.16 L428.19,440.86 L429.50,441.57 L430.80,442.29 L432.11,443.01 L433.41,443.75 L434.72,444.49 L436.02,445.24 L437.33,445.99 L438.63,446.76 L439.94,447.53 L441.24,448.30 L442.55,449.09 L443.85,449.88 L445.16,450.68 L446.46,451.49 L447.77,452.30 L449.07,453.12 L450.38,453.95 L451.68,454.79 L452.99,455.63 L454.29,456.47 L455.60,457.33 L456.90,458.19 L458.21,459.05 L459.51,459.92 L460.82,460.80 L462.12,461.68 L463.43,462.57 L464.73,463.47 L466.04,464.37 L467.34,465.27 L468.65,466.18 L469.95,467.10 L471.26,468.02 L472.56,468.94 L473.87,469.87 L475.17,470.81 L476.48,471.74 L477.78,472.69 L479.09,473.63 L480.39,474.58 L481.70,475.54 L483.00,476.50 L484.31,477.46 L485.61,478.43 L486.92,479.39 L488.22,480.37 L489.53,481.30 L490.83,482.24 L492.14,483.18 L493.44,484.13 L494.75,485.08 L496.05,486.03 L497.36,486.98 L498.66,487.94 L499.97,488.89 L501.27,489.85 L502.58,490.82 L503.88,491.78 L505.19,492.75 L506.49,493.72 L507.80,494.69 L509.10,495.66 L510.41,496.64 L511.71,497.61 L513.02,498.59 L514.32,499.57 L515.62,500.55 L516.93,501.54 L518.24,502.52 L519.54,503.51 L520.85,504.49 L522.15,505.48 L523.46,506.47 L524.76,507.46 L526.07,508.45 L527.37,509.44 L528.68,510.43 L529.98,511.43 L531.29,512.42 L532.59,513.41 L533.89,514.41 L535.20,515.40" stroke="#b0c444" stroke-width="1.00" fill="none"/>
<circle cx="386.43" cy="423.40" r="1.35" fill="#8a5e3c" fill-opacity="0.90"/>
<circle cx="394.26" cy="426.48" r="1.35" fill="#8a5e3c" fill-opacity="0.90"/>
<circle cx="402.09" cy="430.26" r="1.35" fill="#8a5e3c" fill-opacity="0.90"/>
<circle cx="409.92" cy="433.57" r="1.35" fill="#8a5e3c" fill-opacity="0.90"/>
<circle cx="417.75" cy="436.88" r="1.35" fill="#8a5e3c" fill-opacity="0.90"/>
<circle cx="425.58" cy="440.66" r="1.35" fill="#8a5e3c" fill-opacity="0.90"/>
<circle cx="433.41" cy="444.91" r="1.35" fill="#8a5e3c" fill-opacity="0.90"/>
<circle cx="441.24" cy="448.93" r="1.35" fill="#8a5e3c" fill-opacity="0.90"/>
<circle cx="449.07" cy="452.95" r="1.35" fill="#8a5e3c" fill-opacity="0.90"/>
<circle cx="456.90" cy="457.21" r="1.35" fill="#8a5e3c" fill-opacity="0.90"/>
<circle cx="464.73" cy="462.41" r="1.35" fill="#8a5e3c" fill-opacity="0.90"/>
<circle cx="472.56" cy="469.26" r="1.35" fill="#8a5e3c" fill-opacity="0.90"/>
<circle cx="480.39" cy="475.17" r="1.35" fill="#8a5e3c" fill-opacity="0.90"/>
<circle cx="488.22" cy="482.50" r="1.35" fill="#8a5e3c" fill-opacity="0.90"/>
<circle cx="496.05" cy="486.99" r="1.35" fill="#8a5e3c" fill-opacity="0.90"/>
<circle cx="503.88" cy="492.43" r="1.35" fill="#8a5e3c" fill-opacity="0.90"/>
<circle cx="511.71" cy="497.16" r="1.35" fill="#8a5e3c" fill-opacity="0.90"/>
</g>
<circle cx="473.70" cy="418.70" r="1.00" fill="#a02040" fill-opacity="0.90"/>
<path d="M467.70,425.60 H479.20" stroke="#b0c444" stroke-width="0.80" stroke-opacity="0.85"/>
<path d="M467.70,432.60 H479.20" stroke="#cccc66" stroke-width="0.80" stroke-dasharray="1 1.6"/>
<path d="M467.70,439.40 H479.20" stroke="#cccc66" stroke-width="0.80" stroke-dasharray="1 1.6"/>
<text x="481.20" y="420.61" font-size="5.80" font-weight="bold" font-style="normal" text-anchor="start" fill="#0a0a0a" >Prevalence vs. Year</text>
<text x="481.20" y="427.51" font-size="5.80" font-weight="bold" font-style="normal" text-anchor="start" fill="#0a0a0a" >Power2-Exp2</text>
<text x="481.20" y="434.51" font-size="5.80" font-weight="bold" font-style="normal" text-anchor="start" fill="#0a0a0a" >Pred bnds (95%)</text>
<text x="385.40" y="497.59" font-size="8.20" font-weight="bold" font-style="normal" text-anchor="start" fill="#0a0a0a" >SSE: 71.4759</text>
<text x="385.40" y="507.09" font-size="8.20" font-weight="bold" font-style="normal" text-anchor="start" fill="#0a0a0a" >R-square: 0.9984</text>
<text x="385.40" y="516.69" font-size="8.20" font-weight="bold" font-style="normal" text-anchor="start" fill="#0a0a0a" >Adjusted R-square: 0.998</text>
<text x="385.40" y="525.99" font-size="8.20" font-weight="bold" font-style="normal" text-anchor="start" fill="#0a0a0a" >RMSE: 2.0505</text>
<path d="M352.04,150.50 V374.30 M397.68,150.50 V374.30 M443.32,150.50 V374.30 M488.96,150.50 V374.30 M306.40,329.54 H534.60 M306.40,284.78 H534.60 M306.40,240.02 H534.60 M306.40,195.26 H534.60" stroke="#cfcfcf" stroke-width="0.90" fill="none"/>
<path d="M352.04,150.50 v1.60 M352.04,374.30 v-1.60 M397.68,150.50 v1.60 M397.68,374.30 v-1.60 M443.32,150.50 v1.60 M443.32,374.30 v-1.60 M488.96,150.50 v1.60 M488.96,374.30 v-1.60 M306.40,329.54 h1.60 M534.60,329.54 h-1.60 M306.40,284.78 h1.60 M534.60,284.78 h-1.60 M306.40,240.02 h1.60 M534.60,240.02 h-1.60 M306.40,195.26 h1.60 M534.60,195.26 h-1.60" stroke="#777777" stroke-width="0.90" fill="none"/>
<rect x="306.40" y="150.50" width="228.20" height="223.80" fill="none" stroke="#777777" stroke-width="0.90"/>
<text x="304.10" y="376.48" font-size="6.60" font-weight="bold" font-style="normal" text-anchor="end" fill="#0a0a0a" >200</text>
<text x="304.10" y="331.72" font-size="6.60" font-weight="bold" font-style="normal" text-anchor="end" fill="#0a0a0a" >250</text>
<text x="304.10" y="286.96" font-size="6.60" font-weight="bold" font-style="normal" text-anchor="end" fill="#0a0a0a" >300</text>
<text x="304.10" y="242.20" font-size="6.60" font-weight="bold" font-style="normal" text-anchor="end" fill="#0a0a0a" >350</text>
<text x="304.10" y="197.44" font-size="6.60" font-weight="bold" font-style="normal" text-anchor="end" fill="#0a0a0a" >400</text>
<text x="304.10" y="152.68" font-size="6.60" font-weight="bold" font-style="normal" text-anchor="end" fill="#0a0a0a" >450</text>
<text x="306.40" y="382.68" font-size="6.60" font-weight="bold" font-style="normal" text-anchor="middle" fill="#0a0a0a" >1999</text>
<text x="352.04" y="382.68" font-size="6.60" font-weight="bold" font-style="normal" text-anchor="middle" fill="#0a0a0a" >2003</text>
<text x="397.68" y="382.68" font-size="6.60" font-weight="bold" font-style="normal" text-anchor="middle" fill="#0a0a0a" >2007</text>
<text x="443.32" y="382.68" font-size="6.60" font-weight="bold" font-style="normal" text-anchor="middle" fill="#0a0a0a" >2011</text>
<text x="488.96" y="382.68" font-size="6.60" font-weight="bold" font-style="normal" text-anchor="middle" fill="#0a0a0a" >2015</text>
<text x="534.60" y="382.68" font-size="6.60" font-weight="bold" font-style="normal" text-anchor="middle" fill="#0a0a0a" >2019</text>
<text x="420.80" y="391.24" font-size="7.40" font-weight="bold" font-style="normal" text-anchor="middle" fill="#0a0a0a" letter-spacing="0.60">Year</text>
<text x="0" y="0" font-size="7.50" font-weight="bold" text-anchor="middle" fill="#0a0a0a" transform="translate(292.45,262.40) rotate(-90)">Prevalence</text>
<clipPath id="c8"><rect x="306.40" y="150.50" width="228.20" height="223.80"/></clipPath>
<g clip-path="url(#c8)">
<path d="M306.40,166.56 L308.30,167.55 L310.20,168.55 L312.10,169.56 L314.01,170.57 L315.91,171.59 L317.81,172.61 L319.71,173.65 L321.61,174.69 L323.51,175.73 L325.42,176.78 L327.32,177.84 L329.22,178.90 L331.12,179.97 L333.02,181.05 L334.92,182.12 L336.83,183.21 L338.73,184.30 L340.63,185.39 L342.53,186.49 L344.43,187.59 L346.33,188.69 L348.24,189.80 L350.14,190.92 L352.04,192.03 L353.94,193.15 L355.84,194.27 L357.75,195.40 L359.65,196.53 L361.55,197.65 L363.45,198.79 L365.35,199.92 L367.25,201.06 L369.15,202.20 L371.06,203.34 L372.96,204.50 L374.86,205.66 L376.76,206.82 L378.66,208.00 L380.56,209.19 L382.47,210.39 L384.37,211.60 L386.27,212.83 L388.17,214.07 L390.07,215.32 L391.98,216.59 L393.88,217.88 L395.78,219.19 L397.68,220.52 L399.58,221.87 L401.48,223.24 L403.38,224.64 L405.29,226.06 L407.19,227.50 L409.09,228.97 L410.99,230.47 L412.89,232.00 L414.80,233.56 L416.70,235.15 L418.60,236.77 L420.50,238.44 L422.40,240.07 L424.30,241.74 L426.20,243.45 L428.11,245.18 L430.01,246.94 L431.91,248.72 L433.81,250.53 L435.71,252.35 L437.62,254.19 L439.52,256.05 L441.42,257.92 L443.32,259.81 L445.22,261.70 L447.12,263.60 L449.02,265.50 L450.93,267.41 L452.83,269.32 L454.73,271.23 L456.63,273.13 L458.53,275.03 L460.44,276.93 L462.34,278.81 L464.24,280.68 L466.14,282.54 L468.04,284.38 L469.94,286.21 L471.85,288.02 L473.75,289.81 L475.65,291.59 L477.55,293.34 L479.45,295.07 L481.35,296.79 L483.25,298.48 L485.16,300.16 L487.06,301.82 L488.96,303.47 L490.86,305.10 L492.76,306.72 L494.67,308.33 L496.57,309.93 L498.47,311.51 L500.37,313.09 L502.27,314.66 L504.17,316.22 L506.08,317.77 L507.98,319.32 L509.88,320.86 L511.78,322.40 L513.68,323.94 L515.58,325.47 L517.49,327.01 L519.39,328.54 L521.29,330.08 L523.19,331.62 L525.09,333.16 L526.99,334.71 L528.89,336.26 L530.80,337.81 L532.70,339.38 L534.60,340.95" stroke="#70b8d0" stroke-width="0.7" stroke-dasharray="1 1.6" fill="none"/>
<path d="M306.40,171.84 L308.30,172.81 L310.20,173.78 L312.10,174.76 L314.01,175.75 L315.91,176.75 L317.81,177.75 L319.71,178.76 L321.61,179.78 L323.51,180.80 L325.42,181.83 L327.32,182.86 L329.22,183.90 L331.12,184.95 L333.02,186.00 L334.92,187.05 L336.83,188.11 L338.73,189.18 L340.63,190.24 L342.53,191.32 L344.43,192.39 L346.33,193.48 L348.24,194.56 L350.14,195.65 L352.04,196.74 L353.94,197.83 L355.84,198.93 L357.75,200.03 L359.65,201.13 L361.55,202.23 L363.45,203.34 L365.35,204.45 L367.25,205.56 L369.15,206.67 L371.06,207.79 L372.96,208.92 L374.86,210.05 L376.76,211.19 L378.66,212.34 L380.56,213.50 L382.47,214.67 L384.37,215.86 L386.27,217.05 L388.17,218.26 L390.07,219.49 L391.98,220.73 L393.88,221.99 L395.78,223.27 L397.68,224.57 L399.58,225.89 L401.48,227.23 L403.38,228.59 L405.29,229.98 L407.19,231.39 L409.09,232.82 L410.99,234.29 L412.89,235.78 L414.80,237.30 L416.70,238.84 L418.60,240.42 L420.50,242.02 L422.40,243.72 L424.30,245.44 L426.20,247.18 L428.11,248.96 L430.01,250.75 L431.91,252.57 L433.81,254.41 L435.71,256.27 L437.62,258.15 L439.52,260.04 L441.42,261.94 L443.32,263.86 L445.22,265.78 L447.12,267.71 L449.02,269.64 L450.93,271.58 L452.83,273.52 L454.73,275.46 L456.63,277.39 L458.53,279.32 L460.44,281.24 L462.34,283.15 L464.24,285.05 L466.14,286.94 L468.04,288.81 L469.94,290.66 L471.85,292.50 L473.75,294.31 L475.65,296.11 L477.55,297.89 L479.45,299.65 L481.35,301.39 L483.25,303.11 L485.16,304.82 L487.06,306.51 L488.96,308.18 L490.86,309.84 L492.76,311.48 L494.67,313.11 L496.57,314.73 L498.47,316.34 L500.37,317.94 L502.27,319.53 L504.17,321.12 L506.08,322.70 L507.98,324.27 L509.88,325.83 L511.78,327.40 L513.68,328.96 L515.58,330.52 L517.49,332.08 L519.39,333.63 L521.29,335.19 L523.19,336.76 L525.09,338.32 L526.99,339.89 L528.89,341.46 L530.80,343.04 L532.70,344.63 L534.60,346.23" stroke="#70b8d0" stroke-width="0.7" stroke-dasharray="1 1.6" fill="none"/>
<path d="M306.40,169.20 L308.30,170.18 L310.20,171.17 L312.10,172.16 L314.01,173.16 L315.91,174.17 L317.81,175.18 L319.71,176.20 L321.61,177.23 L323.51,178.27 L325.42,179.31 L327.32,180.35 L329.22,181.40 L331.12,182.46 L333.02,183.52 L334.92,184.59 L336.83,185.66 L338.73,186.74 L340.63,187.82 L342.53,188.90 L344.43,189.99 L346.33,191.08 L348.24,192.18 L350.14,193.28 L352.04,194.39 L353.94,195.49 L355.84,196.60 L357.75,197.71 L359.65,198.83 L361.55,199.94 L363.45,201.06 L365.35,202.18 L367.25,203.31 L369.15,204.44 L371.06,205.57 L372.96,206.71 L374.86,207.85 L376.76,209.01 L378.66,210.17 L380.56,211.35 L382.47,212.53 L384.37,213.73 L386.27,214.94 L388.17,216.16 L390.07,217.41 L391.98,218.66 L393.88,219.94 L395.78,221.23 L397.68,222.55 L399.58,223.88 L401.48,225.24 L403.38,226.61 L405.29,228.02 L407.19,229.45 L409.09,230.90 L410.99,232.38 L412.89,233.89 L414.80,235.43 L416.70,237.00 L418.60,238.60 L420.50,240.23 L422.40,241.89 L424.30,243.59 L426.20,245.31 L428.11,247.07 L430.01,248.85 L431.91,250.65 L433.81,252.47 L435.71,254.31 L437.62,256.17 L439.52,258.05 L441.42,259.93 L443.32,261.83 L445.22,263.74 L447.12,265.65 L449.02,267.57 L450.93,269.50 L452.83,271.42 L454.73,273.34 L456.63,275.26 L458.53,277.18 L460.44,279.08 L462.34,280.98 L464.24,282.87 L466.14,284.74 L468.04,286.60 L469.94,288.44 L471.85,290.26 L473.75,292.06 L475.65,293.85 L477.55,295.62 L479.45,297.36 L481.35,299.09 L483.25,300.80 L485.16,302.49 L487.06,304.16 L488.96,305.82 L490.86,307.47 L492.76,309.10 L494.67,310.72 L496.57,312.33 L498.47,313.93 L500.37,315.52 L502.27,317.09 L504.17,318.67 L506.08,320.23 L507.98,321.79 L509.88,323.35 L511.78,324.90 L513.68,326.45 L515.58,327.99 L517.49,329.54 L519.39,331.09 L521.29,332.64 L523.19,334.19 L525.09,335.74 L526.99,337.30 L528.89,338.86 L530.80,340.43 L532.70,342.01 L534.60,343.59" stroke="#3a6a76" stroke-width="1.2" fill="none"/>
<circle cx="317.81" cy="175.12" r="1.15" fill="#84404e" fill-opacity="0.85"/>
<circle cx="329.22" cy="180.94" r="1.15" fill="#84404e" fill-opacity="0.85"/>
<circle cx="340.63" cy="188.10" r="1.15" fill="#84404e" fill-opacity="0.85"/>
<circle cx="352.04" cy="194.36" r="1.15" fill="#84404e" fill-opacity="0.85"/>
<circle cx="363.45" cy="200.63" r="1.15" fill="#84404e" fill-opacity="0.85"/>
<circle cx="374.86" cy="207.79" r="1.15" fill="#84404e" fill-opacity="0.85"/>
<circle cx="386.27" cy="215.85" r="1.15" fill="#84404e" fill-opacity="0.85"/>
<circle cx="397.68" cy="223.46" r="1.15" fill="#84404e" fill-opacity="0.85"/>
<circle cx="409.09" cy="231.07" r="1.15" fill="#84404e" fill-opacity="0.85"/>
<circle cx="420.50" cy="239.12" r="1.15" fill="#84404e" fill-opacity="0.85"/>
<circle cx="431.91" cy="248.97" r="1.15" fill="#84404e" fill-opacity="0.85"/>
<circle cx="443.32" cy="261.95" r="1.15" fill="#84404e" fill-opacity="0.85"/>
<circle cx="454.73" cy="273.14" r="1.15" fill="#84404e" fill-opacity="0.85"/>
<circle cx="466.14" cy="287.02" r="1.15" fill="#84404e" fill-opacity="0.85"/>
<circle cx="477.55" cy="295.52" r="1.15" fill="#84404e" fill-opacity="0.85"/>
<circle cx="488.96" cy="305.82" r="1.15" fill="#84404e" fill-opacity="0.85"/>
<circle cx="500.37" cy="314.77" r="1.15" fill="#84404e" fill-opacity="0.85"/>
</g>
<circle cx="473.00" cy="158.70" r="1.00" fill="#a02040" fill-opacity="0.90"/>
<path d="M468,165.70 H480" stroke="#3a6a76" stroke-width="1"/>
<path d="M468,173.00 H480" stroke="#70b8d0" stroke-width="0.8" stroke-dasharray="1 1.6"/>
<text x="481.00" y="160.61" font-size="5.80" font-weight="bold" font-style="normal" text-anchor="start" fill="#0a0a0a" >Prevalence vs. Year</text>
<text x="481.00" y="167.61" font-size="5.80" font-weight="bold" font-style="normal" text-anchor="start" fill="#0a0a0a" >Combined Model</text>
<text x="481.00" y="174.91" font-size="5.80" font-weight="bold" font-style="normal" text-anchor="start" fill="#0a0a0a" >Pred bnds (95%)</text>
<text x="308.80" y="341.02" font-size="8.30" font-weight="bold" font-style="normal" text-anchor="start" fill="#0a0a0a" >SSE: 21.42</text>
<text x="308.80" y="350.42" font-size="8.30" font-weight="bold" font-style="normal" text-anchor="start" fill="#0a0a0a" >R-square: 0.9995</text>
<text x="308.80" y="359.82" font-size="8.30" font-weight="bold" font-style="normal" text-anchor="start" fill="#0a0a0a" >Adjusted R-square:0.9994</text>
<text x="308.80" y="369.42" font-size="8.30" font-weight="bold" font-style="normal" text-anchor="start" fill="#0a0a0a" >RMSE: 1.195</text>
<path d="M46.90,150.20 V374.40 M70.90,150.20 V374.40 M94.90,150.20 V374.40 M118.90,150.20 V374.40 M142.90,150.20 V374.40 M166.90,150.20 V374.40 M190.90,150.20 V374.40 M214.90,150.20 V374.40 M238.90,150.20 V374.40 M22.90,329.56 H262.90 M22.90,284.72 H262.90 M22.90,239.88 H262.90 M22.90,195.04 H262.90" stroke="#cfcfcf" stroke-width="0.90" fill="none"/>
<path d="M46.90,150.20 v2.20 M46.90,374.40 v-2.20 M70.90,150.20 v2.20 M70.90,374.40 v-2.20 M94.90,150.20 v2.20 M94.90,374.40 v-2.20 M118.90,150.20 v2.20 M118.90,374.40 v-2.20 M142.90,150.20 v2.20 M142.90,374.40 v-2.20 M166.90,150.20 v2.20 M166.90,374.40 v-2.20 M190.90,150.20 v2.20 M190.90,374.40 v-2.20 M214.90,150.20 v2.20 M214.90,374.40 v-2.20 M238.90,150.20 v2.20 M238.90,374.40 v-2.20 M22.90,329.56 h2.20 M262.90,329.56 h-2.20 M22.90,284.72 h2.20 M262.90,284.72 h-2.20 M22.90,239.88 h2.20 M262.90,239.88 h-2.20 M22.90,195.04 h2.20 M262.90,195.04 h-2.20" stroke="#777777" stroke-width="0.90" fill="none"/>
<rect x="22.90" y="150.20" width="240.00" height="224.20" fill="none" stroke="#777777" stroke-width="0.90"/>
<text x="20.60" y="376.28" font-size="5.70" font-weight="bold" font-style="normal" text-anchor="end" fill="#0a0a0a" >200</text>
<text x="20.60" y="331.44" font-size="5.70" font-weight="bold" font-style="normal" text-anchor="end" fill="#0a0a0a" >250</text>
<text x="20.60" y="286.60" font-size="5.70" font-weight="bold" font-style="normal" text-anchor="end" fill="#0a0a0a" >300</text>
<text x="20.60" y="241.76" font-size="5.70" font-weight="bold" font-style="normal" text-anchor="end" fill="#0a0a0a" >350</text>
<text x="20.60" y="196.92" font-size="5.70" font-weight="bold" font-style="normal" text-anchor="end" fill="#0a0a0a" >400</text>
<text x="20.60" y="152.08" font-size="5.70" font-weight="bold" font-style="normal" text-anchor="end" fill="#0a0a0a" >450</text>
<text x="22.90" y="382.28" font-size="5.70" font-weight="bold" font-style="normal" text-anchor="middle" fill="#0a0a0a" >1999</text>
<text x="46.90" y="382.28" font-size="5.70" font-weight="bold" font-style="normal" text-anchor="middle" fill="#0a0a0a" >2001</text>
<text x="70.90" y="382.28" font-size="5.70" font-weight="bold" font-style="normal" text-anchor="middle" fill="#0a0a0a" >2003</text>
<text x="94.90" y="382.28" font-size="5.70" font-weight="bold" font-style="normal" text-anchor="middle" fill="#0a0a0a" >2005</text>
<text x="118.90" y="382.28" font-size="5.70" font-weight="bold" font-style="normal" text-anchor="middle" fill="#0a0a0a" >2007</text>
<text x="142.90" y="382.28" font-size="5.70" font-weight="bold" font-style="normal" text-anchor="middle" fill="#0a0a0a" >2009</text>
<text x="166.90" y="382.28" font-size="5.70" font-weight="bold" font-style="normal" text-anchor="middle" fill="#0a0a0a" >2011</text>
<text x="190.90" y="382.28" font-size="5.70" font-weight="bold" font-style="normal" text-anchor="middle" fill="#0a0a0a" >2013</text>
<text x="214.90" y="382.28" font-size="5.70" font-weight="bold" font-style="normal" text-anchor="middle" fill="#0a0a0a" >2015</text>
<text x="238.90" y="382.28" font-size="5.70" font-weight="bold" font-style="normal" text-anchor="middle" fill="#0a0a0a" >2017</text>
<text x="262.90" y="382.28" font-size="5.70" font-weight="bold" font-style="normal" text-anchor="middle" fill="#0a0a0a" >2019</text>
<text x="143.15" y="389.98" font-size="6.60" font-weight="bold" font-style="normal" text-anchor="middle" fill="#0a0a0a" letter-spacing="0.50">Year</text>
<text x="0" y="0" font-size="6.80" font-weight="bold" text-anchor="middle" fill="#0a0a0a" transform="translate(10.41,262.30) rotate(-90)">Prevalence</text>
<clipPath id="c7"><rect x="22.90" y="150.20" width="240.00" height="224.20"/></clipPath>
<g clip-path="url(#c7)">
<path d="M22.90,169.93 L24.90,170.76 L26.90,171.60 L28.90,172.46 L30.90,173.32 L32.90,174.20 L34.90,175.09 L36.90,176.00 L38.90,176.91 L40.90,177.84 L42.90,178.78 L44.90,179.74 L46.90,180.70 L48.90,181.68 L50.90,182.67 L52.90,183.67 L54.90,184.69 L56.90,185.72 L58.90,186.76 L60.90,187.81 L62.90,188.88 L64.90,189.95 L66.90,191.04 L68.90,192.15 L70.90,193.26 L72.90,194.39 L74.90,195.53 L76.90,196.68 L78.90,197.84 L80.90,199.02 L82.90,200.21 L84.90,201.41 L86.90,202.62 L88.90,203.85 L90.90,205.09 L92.90,206.34 L94.90,207.60 L96.90,208.88 L98.90,210.17 L100.90,211.47 L102.90,212.78 L104.90,214.10 L106.90,215.44 L108.90,216.79 L110.90,218.15 L112.90,219.53 L114.90,220.92 L116.90,222.32 L118.90,223.73 L120.90,225.15 L122.90,226.59 L124.90,228.04 L126.90,229.50 L128.90,230.97 L130.90,232.46 L132.90,233.96 L134.90,235.47 L136.90,236.99 L138.90,238.53 L140.90,240.08 L142.90,241.64 L144.90,243.21 L146.90,244.80 L148.90,246.39 L150.90,248.00 L152.90,249.63 L154.90,251.26 L156.90,252.91 L158.90,254.57 L160.90,256.24 L162.90,257.93 L164.90,259.62 L166.90,261.33 L168.90,263.05 L170.90,264.79 L172.90,266.53 L174.90,268.29 L176.90,270.06 L178.90,271.85 L180.90,273.64 L182.90,275.45 L184.90,277.27 L186.90,279.11 L188.90,280.95 L190.90,282.81 L192.90,284.68 L194.90,286.56 L196.90,288.46 L198.90,290.37 L200.90,292.29 L202.90,294.22 L204.90,296.16 L206.90,298.12 L208.90,300.09 L210.90,302.07 L212.90,304.07 L214.90,306.07 L216.90,308.09 L218.90,310.12 L220.90,312.17 L222.90,314.22 L224.90,316.29 L226.90,318.37 L228.90,320.47 L230.90,322.57 L232.90,324.69 L234.90,326.82 L236.90,328.97 L238.90,331.12 L240.90,333.29 L242.90,335.47 L244.90,337.66 L246.90,339.87 L248.90,342.08 L250.90,344.31 L252.90,346.56 L254.90,348.81 L256.90,351.08 L258.90,353.36 L260.90,355.65 L262.90,357.95" stroke="#4fb4c4" stroke-width="1.6" fill="none"/>
<path d="M22.90,172.61 L24.90,173.20 L26.90,173.82 L28.90,174.45 L30.90,175.11 L32.90,175.80 L34.90,176.50 L36.90,177.23 L38.90,177.97 L40.90,178.74 L42.90,179.53 L44.90,180.35 L46.90,181.18 L48.90,182.03 L50.90,182.90 L52.90,183.80 L54.90,184.71 L56.90,185.65 L58.90,186.60 L60.90,187.57 L62.90,188.57 L64.90,189.58 L66.90,190.61 L68.90,191.66 L70.90,192.73 L72.90,193.81 L74.90,194.92 L76.90,196.04 L78.90,197.18 L80.90,198.34 L82.90,199.51 L84.90,200.71 L86.90,201.91 L88.90,203.14 L90.90,204.38 L92.90,205.64 L94.90,206.92 L96.90,208.21 L98.90,209.51 L100.90,210.83 L102.90,212.17 L104.90,213.52 L106.90,214.89 L108.90,216.27 L110.90,217.67 L112.90,219.08 L114.90,220.50 L116.90,221.94 L118.90,223.40 L120.90,224.86 L122.90,226.34 L124.90,227.83 L126.90,229.34 L128.90,230.86 L130.90,232.39 L132.90,233.93 L134.90,235.49 L136.90,237.05 L138.90,238.63 L140.90,240.22 L142.90,241.82 L144.90,243.44 L146.90,245.06 L148.90,246.69 L150.90,248.34 L152.90,249.99 L154.90,251.66 L156.90,253.33 L158.90,255.02 L160.90,256.71 L162.90,258.42 L164.90,260.13 L166.90,261.85 L168.90,263.58 L170.90,265.32 L172.90,267.07 L174.90,268.83 L176.90,270.59 L178.90,272.36 L180.90,274.14 L182.90,275.93 L184.90,277.72 L186.90,279.52 L188.90,281.33 L190.90,283.14 L192.90,284.96 L194.90,286.79 L196.90,288.62 L198.90,290.46 L200.90,292.30 L202.90,294.15 L204.90,296.00 L206.90,297.86 L208.90,299.72 L210.90,301.59 L212.90,303.46 L214.90,305.34 L216.90,307.22 L218.90,309.10 L220.90,310.99 L222.90,312.88 L224.90,314.78 L226.90,316.67 L228.90,318.57 L230.90,320.48 L232.90,322.38 L234.90,324.29 L236.90,326.20 L238.90,328.11 L240.90,330.02 L242.90,331.93 L244.90,333.85 L246.90,335.76 L248.90,337.68 L250.90,339.60 L252.90,341.51 L254.90,343.43 L256.90,345.35 L258.90,347.27 L260.90,349.18 L262.90,351.10" stroke="#e8d040" stroke-width="1.6" fill="none"/>
<path d="M22.90,171.78 L24.90,172.40 L26.90,173.04 L28.90,173.71 L30.90,174.40 L32.90,175.11 L34.90,175.84 L36.90,176.59 L38.90,177.37 L40.90,178.16 L42.90,178.98 L44.90,179.82 L46.90,180.68 L48.90,181.56 L50.90,182.46 L52.90,183.38 L54.90,184.32 L56.90,185.28 L58.90,186.26 L60.90,187.26 L62.90,188.27 L64.90,189.31 L66.90,190.36 L68.90,191.44 L70.90,192.53 L72.90,193.64 L74.90,194.76 L76.90,195.91 L78.90,197.07 L80.90,198.25 L82.90,199.44 L84.90,200.66 L86.90,201.88 L88.90,203.13 L90.90,204.39 L92.90,205.67 L94.90,206.96 L96.90,208.26 L98.90,209.59 L100.90,210.92 L102.90,212.28 L104.90,213.64 L106.90,215.02 L108.90,216.42 L110.90,217.83 L112.90,219.25 L114.90,220.69 L116.90,222.14 L118.90,223.60 L120.90,225.07 L122.90,226.56 L124.90,228.06 L126.90,229.57 L128.90,231.10 L130.90,232.63 L132.90,234.18 L134.90,235.74 L136.90,237.31 L138.90,238.89 L140.90,240.48 L142.90,242.09 L144.90,243.70 L146.90,245.32 L148.90,246.95 L150.90,248.60 L152.90,250.25 L154.90,251.91 L156.90,253.58 L158.90,255.25 L160.90,256.94 L162.90,258.64 L164.90,260.34 L166.90,262.05 L168.90,263.77 L170.90,265.50 L172.90,267.23 L174.90,268.97 L176.90,270.72 L178.90,272.47 L180.90,274.23 L182.90,276.00 L184.90,277.77 L186.90,279.55 L188.90,281.34 L190.90,283.13 L192.90,284.92 L194.90,286.72 L196.90,288.53 L198.90,290.33 L200.90,292.15 L202.90,293.97 L204.90,295.79 L206.90,297.61 L208.90,299.44 L210.90,301.27 L212.90,303.11 L214.90,304.94 L216.90,306.78 L218.90,308.63 L220.90,310.47 L222.90,312.32 L224.90,314.17 L226.90,316.02 L228.90,317.87 L230.90,319.72 L232.90,321.57 L234.90,323.43 L236.90,325.28 L238.90,327.14 L240.90,328.99 L242.90,330.85 L244.90,332.70 L246.90,334.55 L248.90,336.41 L250.90,338.26 L252.90,340.11 L254.90,341.96 L256.90,343.81 L258.90,345.65 L260.90,347.49 L262.90,349.34" stroke="#c47a52" stroke-width="1.6" fill="none"/>
<path d="M22.90,170.86 L24.90,171.60 L26.90,172.35 L28.90,173.12 L30.90,173.91 L32.90,174.71 L34.90,175.53 L36.90,176.37 L38.90,177.22 L40.90,178.09 L42.90,178.97 L44.90,179.87 L46.90,180.79 L48.90,181.72 L50.90,182.66 L52.90,183.63 L54.90,184.60 L56.90,185.60 L58.90,186.60 L60.90,187.63 L62.90,188.66 L64.90,189.72 L66.90,190.79 L68.90,191.87 L70.90,192.97 L72.90,194.08 L74.90,195.20 L76.90,196.35 L78.90,197.50 L80.90,198.67 L82.90,199.86 L84.90,201.06 L86.90,202.27 L88.90,203.50 L90.90,204.74 L92.90,205.99 L94.90,207.26 L96.90,208.54 L98.90,209.84 L100.90,211.15 L102.90,212.47 L104.90,213.81 L106.90,215.16 L108.90,216.52 L110.90,217.90 L112.90,219.29 L114.90,220.69 L116.90,222.10 L118.90,223.53 L120.90,224.97 L122.90,226.43 L124.90,227.90 L126.90,229.37 L128.90,230.87 L130.90,232.37 L132.90,233.89 L134.90,235.41 L136.90,236.96 L138.90,238.51 L140.90,240.07 L142.90,241.65 L144.90,243.24 L146.90,244.84 L148.90,246.45 L150.90,248.08 L152.90,249.71 L154.90,251.36 L156.90,253.02 L158.90,254.68 L160.90,256.37 L162.90,258.06 L164.90,259.76 L166.90,261.47 L168.90,263.20 L170.90,264.93 L172.90,266.68 L174.90,268.44 L176.90,270.20 L178.90,271.98 L180.90,273.77 L182.90,275.57 L184.90,277.38 L186.90,279.20 L188.90,281.03 L190.90,282.87 L192.90,284.72 L194.90,286.58 L196.90,288.45 L198.90,290.32 L200.90,292.21 L202.90,294.11 L204.90,296.02 L206.90,297.94 L208.90,299.86 L210.90,301.80 L212.90,303.74 L214.90,305.70 L216.90,307.66 L218.90,309.63 L220.90,311.61 L222.90,313.60 L224.90,315.60 L226.90,317.60 L228.90,319.62 L230.90,321.64 L232.90,323.68 L234.90,325.72 L236.90,327.76 L238.90,329.82 L240.90,331.89 L242.90,333.96 L244.90,336.04 L246.90,338.13 L248.90,340.22 L250.90,342.33 L252.90,344.44 L254.90,346.56 L256.90,348.68 L258.90,350.82 L260.90,352.96 L262.90,355.11" stroke="#5a80a8" stroke-width="1.6" fill="none"/>
<path d="M22.90,169.23 L24.90,169.92 L26.90,170.64 L28.90,171.37 L30.90,172.12 L32.90,172.88 L34.90,173.67 L36.90,174.47 L38.90,175.29 L40.90,176.13 L42.90,176.99 L44.90,177.87 L46.90,178.76 L48.90,179.67 L50.90,180.60 L52.90,181.54 L54.90,182.51 L56.90,183.49 L58.90,184.49 L60.90,185.50 L62.90,186.53 L64.90,187.58 L66.90,188.65 L68.90,189.74 L70.90,190.84 L72.90,191.95 L74.90,193.09 L76.90,194.24 L78.90,195.41 L80.90,196.59 L82.90,197.80 L84.90,199.01 L86.90,200.25 L88.90,201.50 L90.90,202.76 L92.90,204.05 L94.90,205.34 L96.90,206.66 L98.90,207.99 L100.90,209.33 L102.90,210.69 L104.90,212.06 L106.90,213.45 L108.90,214.86 L110.90,216.28 L112.90,217.71 L114.90,219.16 L116.90,220.62 L118.90,222.10 L120.90,223.59 L122.90,225.09 L124.90,226.61 L126.90,228.14 L128.90,229.68 L130.90,231.24 L132.90,232.81 L134.90,234.39 L136.90,235.98 L138.90,237.59 L140.90,239.21 L142.90,240.84 L144.90,242.48 L146.90,244.14 L148.90,245.80 L150.90,247.47 L152.90,249.16 L154.90,250.86 L156.90,252.56 L158.90,254.28 L160.90,256.01 L162.90,257.74 L164.90,259.49 L166.90,261.24 L168.90,263.01 L170.90,264.78 L172.90,266.56 L174.90,268.35 L176.90,270.14 L178.90,271.94 L180.90,273.76 L182.90,275.57 L184.90,277.40 L186.90,279.23 L188.90,281.07 L190.90,282.91 L192.90,284.69 L194.90,286.47 L196.90,288.26 L198.90,290.05 L200.90,291.85 L202.90,293.65 L204.90,295.46 L206.90,297.27 L208.90,299.09 L210.90,300.91 L212.90,302.73 L214.90,304.56 L216.90,306.40 L218.90,308.24 L220.90,310.08 L222.90,311.92 L224.90,313.77 L226.90,315.63 L228.90,317.48 L230.90,319.34 L232.90,321.20 L234.90,323.07 L236.90,324.93 L238.90,326.80 L240.90,328.67 L242.90,330.55 L244.90,332.42 L246.90,334.30 L248.90,336.18 L250.90,338.06 L252.90,339.94 L254.90,341.83 L256.90,343.71 L258.90,345.59 L260.90,347.48 L262.90,349.37" stroke="#b0c040" stroke-width="1.6" fill="none"/>
<path d="M22.90,171.71 L24.90,172.38 L26.90,173.07 L28.90,173.79 L30.90,174.52 L32.90,175.27 L34.90,176.03 L36.90,176.82 L38.90,177.63 L40.90,178.45 L42.90,179.29 L44.90,180.15 L46.90,181.03 L48.90,181.92 L50.90,182.84 L52.90,183.77 L54.90,184.72 L56.90,185.68 L58.90,186.66 L60.90,187.66 L62.90,188.68 L64.90,189.72 L66.90,190.77 L68.90,191.83 L70.90,192.92 L72.90,194.02 L74.90,195.13 L76.90,196.27 L78.90,197.42 L80.90,198.58 L82.90,199.76 L84.90,200.96 L86.90,202.17 L88.90,203.40 L90.90,204.64 L92.90,205.90 L94.90,207.17 L96.90,208.46 L98.90,209.76 L100.90,211.08 L102.90,212.41 L104.90,213.76 L106.90,215.12 L108.90,216.49 L110.90,217.88 L112.90,219.29 L114.90,220.70 L116.90,222.13 L118.90,223.58 L120.90,225.03 L122.90,226.50 L124.90,227.99 L126.90,229.48 L128.90,230.99 L130.90,232.51 L132.90,234.05 L134.90,235.59 L136.90,237.15 L138.90,238.72 L140.90,240.31 L142.90,241.90 L144.90,243.51 L146.90,245.13 L148.90,246.75 L150.90,248.39 L152.90,250.05 L154.90,251.71 L156.90,253.38 L158.90,255.07 L160.90,256.76 L162.90,258.47 L164.90,260.18 L166.90,261.91 L168.90,263.64 L170.90,265.39 L172.90,267.14 L174.90,268.90 L176.90,270.68 L178.90,272.46 L180.90,274.25 L182.90,276.05 L184.90,277.86 L186.90,279.68 L188.90,281.51 L190.90,283.34 L192.90,285.19 L194.90,287.04 L196.90,288.90 L198.90,290.76 L200.90,292.64 L202.90,294.52 L204.90,296.41 L206.90,298.31 L208.90,300.21 L210.90,302.12 L212.90,304.04 L214.90,305.96 L216.90,307.89 L218.90,309.83 L220.90,311.77 L222.90,313.72 L224.90,315.68 L226.90,317.64 L228.90,319.60 L230.90,321.57 L232.90,323.55 L234.90,325.53 L236.90,327.52 L238.90,329.51 L240.90,331.50 L242.90,333.51 L244.90,335.51 L246.90,337.52 L248.90,339.53 L250.90,341.55 L252.90,343.57 L254.90,345.60 L256.90,347.63 L258.90,349.66 L260.90,351.69 L262.90,353.73" stroke="#7f9a4c" stroke-width="1.6" fill="none"/>
<path d="M22.90,168.94 L24.90,169.92 L26.90,170.90 L28.90,171.90 L30.90,172.90 L32.90,173.91 L34.90,174.93 L36.90,175.95 L38.90,176.98 L40.90,178.02 L42.90,179.06 L44.90,180.10 L46.90,181.16 L48.90,182.22 L50.90,183.28 L52.90,184.35 L54.90,185.42 L56.90,186.50 L58.90,187.58 L60.90,188.67 L62.90,189.76 L64.90,190.86 L66.90,191.96 L68.90,193.06 L70.90,194.16 L72.90,195.27 L74.90,196.38 L76.90,197.50 L78.90,198.61 L80.90,199.73 L82.90,200.85 L84.90,201.98 L86.90,203.10 L88.90,204.23 L90.90,205.37 L92.90,206.51 L94.90,207.66 L96.90,208.81 L98.90,209.98 L100.90,211.15 L102.90,212.34 L104.90,213.54 L106.90,214.75 L108.90,215.98 L110.90,217.22 L112.90,218.48 L114.90,219.76 L116.90,221.06 L118.90,222.37 L120.90,223.71 L122.90,225.07 L124.90,226.45 L126.90,227.86 L128.90,229.29 L130.90,230.74 L132.90,232.23 L134.90,233.74 L136.90,235.28 L138.90,236.85 L140.90,238.45 L142.90,240.09 L144.90,241.76 L146.90,243.46 L148.90,245.18 L150.90,246.94 L152.90,248.72 L154.90,250.53 L156.90,252.35 L158.90,254.20 L160.90,256.06 L162.90,257.94 L164.90,259.83 L166.90,261.73 L168.90,263.64 L170.90,265.56 L172.90,267.48 L174.90,269.41 L176.90,271.34 L178.90,273.26 L180.90,275.18 L182.90,277.10 L184.90,279.01 L186.90,280.91 L188.90,282.80 L190.90,284.68 L192.90,286.54 L194.90,288.38 L196.90,290.21 L198.90,292.02 L200.90,293.81 L202.90,295.57 L204.90,297.32 L206.90,299.05 L208.90,300.77 L210.90,302.46 L212.90,304.14 L214.90,305.80 L216.90,307.45 L218.90,309.09 L220.90,310.71 L222.90,312.32 L224.90,313.92 L226.90,315.51 L228.90,317.09 L230.90,318.67 L232.90,320.24 L234.90,321.80 L236.90,323.36 L238.90,324.91 L240.90,326.46 L242.90,328.01 L244.90,329.56 L246.90,331.11 L248.90,332.66 L250.90,334.21 L252.90,335.77 L254.90,337.33 L256.90,338.90 L258.90,340.47 L260.90,342.05 L262.90,343.64" stroke="#3d6a62" stroke-width="1.6" fill="none"/>
<circle cx="34.90" cy="174.86" r="1.75" fill="#d24a4a" fill-opacity="0.92"/>
<circle cx="46.90" cy="180.69" r="1.75" fill="#d24a4a" fill-opacity="0.92"/>
<circle cx="58.90" cy="187.87" r="1.75" fill="#d24a4a" fill-opacity="0.92"/>
<circle cx="70.90" cy="194.14" r="1.75" fill="#d24a4a" fill-opacity="0.92"/>
<circle cx="82.90" cy="200.42" r="1.75" fill="#d24a4a" fill-opacity="0.92"/>
<circle cx="94.90" cy="207.60" r="1.75" fill="#d24a4a" fill-opacity="0.92"/>
<circle cx="106.90" cy="215.67" r="1.75" fill="#d24a4a" fill-opacity="0.92"/>
<circle cx="118.90" cy="223.29" r="1.75" fill="#d24a4a" fill-opacity="0.92"/>
<circle cx="130.90" cy="230.91" r="1.75" fill="#d24a4a" fill-opacity="0.92"/>
<circle cx="142.90" cy="238.98" r="1.75" fill="#d24a4a" fill-opacity="0.92"/>
<circle cx="154.90" cy="248.85" r="1.75" fill="#d24a4a" fill-opacity="0.92"/>
<circle cx="166.90" cy="261.85" r="1.75" fill="#d24a4a" fill-opacity="0.92"/>
<circle cx="178.90" cy="273.06" r="1.75" fill="#d24a4a" fill-opacity="0.92"/>
<circle cx="190.90" cy="286.96" r="1.75" fill="#d24a4a" fill-opacity="0.92"/>
<circle cx="202.90" cy="295.48" r="1.75" fill="#d24a4a" fill-opacity="0.92"/>
<circle cx="214.90" cy="305.79" r="1.75" fill="#d24a4a" fill-opacity="0.92"/>
<circle cx="226.90" cy="314.76" r="1.75" fill="#d24a4a" fill-opacity="0.92"/>
</g>
<path d="M25.20,282.20 H37.30" stroke="#5aaab4" stroke-width="1.0"/>
<text x="38.30" y="284.18" font-size="6.00" font-weight="bold" font-style="normal" text-anchor="start" fill="#0a0a0a" letter-spacing="0.000">Ploy2 &#160;<tspan font-style="italic">f</tspan><tspan font-size="4.0" dy="1.2">1</tspan><tspan dy="-1.2" font-style="italic">(x)</tspan> = -0.2487*<tspan font-style="italic">x</tspan><tspan font-size="4.0" dy="-2">2</tspan><tspan dy="2"> -5.509*</tspan><tspan font-style="italic">x</tspan> + 428</text>
<path d="M25.20,295.50 H37.30" stroke="#b4b490" stroke-width="1.0"/>
<text x="38.30" y="293.78" font-size="6.00" font-weight="bold" font-style="normal" text-anchor="start" fill="#0a0a0a" letter-spacing="0.000">Sin2 &#160;<tspan font-style="italic">f</tspan><tspan font-size="4.0" dy="1.2">2</tspan><tspan dy="-1.2" font-style="italic">(x)</tspan> = 419.5*sin( 0.03965*<tspan font-style="italic">x</tspan>+0.9756)</text>
<text x="67.60" y="302.58" font-size="6.00" font-weight="bold" font-style="normal" text-anchor="start" fill="#0a0a0a" letter-spacing="0.000">+271.8*sin(0.05294*<tspan font-style="italic">x</tspan>+2.848)</text>
<path d="M25.20,309.60 H37.30" stroke="#e2e07c" stroke-width="1.0"/>
<text x="38.30" y="311.58" font-size="6.00" font-weight="bold" font-style="normal" text-anchor="start" fill="#0a0a0a" letter-spacing="-0.045">Reci-Ploy2 &#160;<tspan font-style="italic">f</tspan><tspan font-size="4.0" dy="1.2">3</tspan><tspan dy="-1.2" font-style="italic">(x)</tspan> = 1/(4.264e-06*<tspan font-style="italic">x</tspan><tspan font-size="4.0" dy="-2">2</tspan><tspan dy="2"> + 8.443e-06*</tspan><tspan font-style="italic">x</tspan>+0.002374)</text>
<path d="M25.20,319.30 H37.30" stroke="#7a94b4" stroke-width="1.0"/>
<text x="38.30" y="321.28" font-size="6.00" font-weight="bold" font-style="normal" text-anchor="start" fill="#0a0a0a" letter-spacing="-0.062">Reci-Exp2 &#160;<tspan font-style="italic">f</tspan><tspan font-size="4.0" dy="1.2">4</tspan><tspan dy="-1.2" font-style="italic">(x)</tspan> = 1/(0.0003197*exp(0.1035*<tspan font-style="italic">x</tspan>)+0.002822*exp(-0.00246*<tspan font-style="italic">x</tspan>))</text>
<path d="M25.20,331.50 H37.30" stroke="#b89590" stroke-width="1.0"/>
<text x="38.30" y="333.78" font-size="6.00" font-weight="bold" font-style="normal" text-anchor="start" fill="#0a0a0a" letter-spacing="0.000">Power2-Ploy2 &#160;<tspan font-style="italic">f</tspan><tspan font-size="4.0" dy="1.2">5</tspan><tspan dy="-1.2" font-style="italic">(x)</tspan> = 2<tspan font-size="4.75" font-weight="normal" dy="-2.8">(-0.00062*<tspan font-style="italic">x</tspan><tspan font-size="3.2" dy="-1.4">2</tspan><tspan dy="1.4"> -0.0475*<tspan font-style="italic">x</tspan>+8.751)</tspan></tspan></text>
<path d="M25.20,343.30 H37.30" stroke="#cfd070" stroke-width="1.0"/>
<text x="38.30" y="345.58" font-size="6.00" font-weight="bold" font-style="normal" text-anchor="start" fill="#0a0a0a" letter-spacing="0.000">Power2-Exp2 &#160;<tspan font-style="italic">f</tspan><tspan font-size="4.0" dy="1.2">6</tspan><tspan dy="-1.2" font-style="italic">(x)</tspan> = 2<tspan font-size="4.75" font-weight="normal" dy="-2.8"> (-91.5*exp(0.01118*<tspan font-style="italic">x</tspan>) + 90.24*exp(0.01469*<tspan font-style="italic">x</tspan>))</tspan></text>
<path d="M25.20,358.30 H37.30" stroke="#3e6470" stroke-width="1.0"/>
<text x="38.30" y="354.48" font-size="6.00" font-weight="bold" font-style="normal" text-anchor="start" fill="#0a0a0a" letter-spacing="0.000">Combined Model &#160;<tspan font-style="italic">f(x)</tspan> = 138.777*<tspan font-style="italic">f</tspan><tspan font-size="4.0" dy="1.2">1</tspan><tspan dy="-1.2">-378.335*</tspan><tspan font-style="italic">f</tspan><tspan font-size="4.0" dy="1.2">2</tspan><tspan dy="-1.2">-89.237*</tspan><tspan font-style="italic">f</tspan><tspan font-size="4.0" dy="1.2">3</tspan></text>
<text x="101.00" y="363.78" font-size="6.00" font-weight="bold" font-style="normal" text-anchor="start" fill="#0a0a0a" letter-spacing="0.000">-138.215*<tspan font-style="italic">f</tspan><tspan font-size="4.0" dy="1.2">4</tspan><tspan dy="-1.2">-452.590*</tspan><tspan font-style="italic">f</tspan><tspan font-size="4.0" dy="1.2">5</tspan><tspan dy="-1.2">+23.387*</tspan><tspan font-style="italic">f</tspan><tspan font-size="4.0" dy="1.2">6</tspan></text>
<circle cx="31.40" cy="371.20" r="1.45" fill="#a83848" fill-opacity="0.90"/>
<text x="38.30" y="373.18" font-size="6.00" font-weight="bold" font-style="normal" text-anchor="start" fill="#0a0a0a" >Real Data</text>
</svg></body></html>
